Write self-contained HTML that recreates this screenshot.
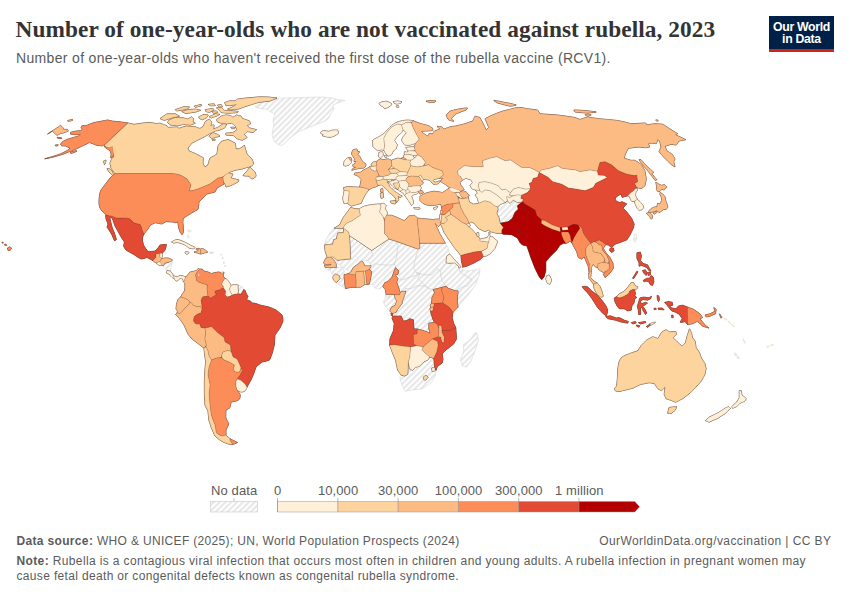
<!DOCTYPE html>
<html lang="en">
<head>
<meta charset="utf-8">
<title>Number of one-year-olds who are not vaccinated against rubella, 2023</title>
<style>
  html, body { margin: 0; padding: 0; background: #ffffff; }
  body { width: 850px; height: 600px; position: relative; overflow: hidden;
         font-family: "Liberation Sans", sans-serif; color: #5b5b5b; }
  .abs { position: absolute; white-space: nowrap; line-height: 1; }
  #title { left: 15.6px; top: 18px; font-family: "Liberation Serif", serif; font-weight: bold;
           font-size: 23.3px; color: #333333; letter-spacing: 0.075px; }
  #subtitle { left: 16px; top: 50.5px; font-size: 14px; color: #5b5b5b; letter-spacing: 0.337px; }
  #logo { left: 769px; top: 16px; width: 65px; height: 33px; background: #002147;
          border-bottom: 3px solid #ce261e; color: #fff; text-align: center; white-space: normal; }
  #logo span { display: block; font-weight: bold; font-size: 12.3px; line-height: 11.9px; letter-spacing: -0.32px; }
  #logo span.l1 { padding-top: 5.6px; }
  .leg { font-size: 13px; color: #5b5b5b; top: 483.5px; letter-spacing: 0.1px; transform: translateX(-50%); }
  #src  { left: 16.5px; top: 534.8px; font-size: 12px; letter-spacing: 0.335px; }
  #url  { right: 18.6px; top: 534.8px; font-size: 12px; letter-spacing: 0.42px; }
  #note1 { left: 16.5px; top: 554.8px; font-size: 12px; letter-spacing: 0.369px; }
  #note2 { left: 16.5px; top: 570.2px; font-size: 12px; letter-spacing: 0.339px; }
  b { font-weight: bold; }
  #map { position: absolute; left: 0; top: 0; width: 850px; height: 600px; }
</style>
</head>
<body>
<div id="title" class="abs">Number of one-year-olds who are not vaccinated against rubella, 2023</div>
<div id="subtitle" class="abs">Number of one-year-olds who haven't received the first dose of the rubella vaccine (RCV1).</div>
<div id="logo" class="abs"><span class="l1">Our World</span><span>in Data</span></div>
<svg id="map" viewBox="0 0 850 600" width="850" height="600">
<defs>
<pattern id="hatch" patternUnits="userSpaceOnUse" width="4.14" height="4.14" patternTransform="rotate(45)">
<rect width="4.14" height="4.14" fill="#ffffff"/><line x1="1.1" y1="0" x2="1.1" y2="4.14" stroke="#e6e6e6" stroke-width="2"/>
</pattern>
</defs>
<style>#countries path{stroke:#5a3a2a;stroke-opacity:.55;stroke-width:.35;stroke-linejoin:round}#countries path.t{stroke-opacity:.3;stroke-width:.3}#countries path.u{stroke-opacity:1;stroke-width:.7}#countries path.nd{fill:url(#hatch);stroke:#cfcfcf;stroke-opacity:1;stroke-width:.5}</style><g id="countries">
<path class="nd" d="M255 107L262 102L270 100L278 98.4L290 97.8L300 97.6L311 97.2L322 97L332 98L338 99.6L345 100.5L339 102.5L333 105L334 109L332 112L330 116L328 119L324 121.5L320 123L315 125L310 127L304 129.5L298 132L294 135L290 138L287 141L284 144L281.5 145.5L279 145L276 143L274 141L272.5 137L272 133L273 129L274 125L273 120L274 117L275 114L270 111.5L266 109L260 108.5Z"/>
<path class="nd" d="M163 266L164 264.6L165 263L167 262.6L169 262L171 261.2L172.4 260.4L172.2 263L171.6 265L171 268L170.4 271L168.6 270.8L167 270L165.4 268.8L164 267.4Z"/>
<path class="nd" d="M209.6 252L213.6 252L213.2 253.4L210 253.4Z"/>
<path class="nd" d="M238.2 285.2L241.5 286.5L244 289.5L242.5 292L241 294.5L239 294L237.5 294L238.5 291.5L237.8 288Z"/>
<path class="nd" d="M334.3 228.1L339 228.2L343.5 228.4L343.5 232.6L337.8 233L337.1 236L336.4 239L333.6 239.7L333.2 242L332.9 244.2L328.6 244.6L324.4 245L325.4 242L326.5 239L328.2 235.8L330 232.6L332 230.2Z"/>
<path class="nd" d="M349.4 235.5L359 241.8L369 248.6L371.8 250.3L372.2 253.2L372.5 256L370 258.1L367.6 260.2L364.8 260.6L361.9 261L359.8 262.8L357.7 264.5L355.6 265.9L353.4 267.3L352.4 269.4L351.3 271.6L348.4 270.5L345.6 269.4L343.8 268L342.1 266.6L339.6 264.8L337.1 263.1L337.1 260.2L343.8 259.5L350.6 258.8L350 247Z"/>
<path class="nd" d="M371.8 250.3L380.3 244.6L388.8 239L392.4 240L395.9 241.1L397 243.2L398 245.4L397.3 251.4L396.6 257.4L395.6 260.6L394.5 263.8L391.6 264.8L388.8 265.3L384.6 265L380.3 264.6L377.5 264.2L374.7 263.9L372.9 264.9L371.1 265.9L369.4 263L367.6 260.2L370 258.1L372.5 256L372.2 253.2Z"/>
<path class="nd" d="M395.9 241.1L406.9 245L417.9 248.9L417 253.3L414.8 261.8L413.4 267.5L416.2 272.6L418.1 273.4L420 273.8L415 275.6L410.1 277.3L405.8 278.8L401.6 280.2L399.8 277.2L398 274.3L398.4 272.6L398.7 270.9L397 269.1L395.6 267.6L395 265.8L394.5 263.8L395.6 260.6L396.6 257.4L397.3 251.4L398 245.4L397 243.2Z"/>
<path class="nd" d="M419.7 243.1L432.5 243.1L445.3 243.1L446.7 245.8L448.1 248.4L448.8 251.2L449.5 254L448.1 255.2L446.7 256.3L446.4 259.4L446.2 262.6L444.3 265.1L442.5 267.6L441.4 269.8L440.3 271.9L438.9 270.2L437.5 268.4L434.6 271.6L431.8 274.8L427.5 274.8L423.3 274.8L419.8 273.7L416.2 272.6L413.4 267.5L414.8 261.8L417 253.3L417.9 248.9L419.7 248.2Z"/>
<path class="nd" d="M416.2 272.6L419.8 273.7L423.3 274.8L427.5 274.8L431.8 274.8L434.6 271.6L437.5 268.4L438.9 270.2L440.3 271.9L441 275.7L441.7 279.5L443.8 282.8L446 286.2L443.8 286.9L441.7 287.5L437.4 288.6L433.2 289.6L431.1 289.2L429 288.7L425.8 285.9L422.6 283.1L420 280.6L417.7 278.1L418.8 276L420 273.8L418.1 273.4Z"/>
<path class="nd" d="M459 268L460.3 267.5L461.6 267.2L462.2 268.8L462.7 270.4L461.3 271.1L459.9 271.7L459.4 269.9Z"/>
<path class="nd" d="M446.2 262.6L447.8 262.9L449.5 263.1L452 262.9L454.5 262.7L456.6 264.6L458.7 266.4L459 268L459.4 269.9L459.9 271.7L461.4 272.9L463 274L467.6 276.8L472.2 279.6L469.7 282.8L467.2 286L464.4 286.7L461.6 287.4L458.8 289.2L455.9 291L452.4 289.8L448.8 288.6L447.4 287.4L446 286.2L443.8 282.8L441.7 279.5L441 275.7L440.3 271.9L441.4 269.8L442.5 267.6L444.3 265.1Z"/>
<path class="nd" d="M462.7 270.4L465.7 270.7L468.7 271L474.4 270L480 268.9L479.8 271.4L479.7 273.9L477.7 279.2L475.7 284.5L472.2 289.4L468.7 294.4L465.2 298.3L461.6 302.2L459.8 304.7L458 307.2L457.6 304.4L457.3 301.5L457.6 296.2L458 290.9L455.9 291L458.8 289.2L461.6 287.4L464.4 286.7L467.2 286L469.7 282.8L472.2 279.6L467.6 276.8L463 274L461.4 272.9L459.9 271.7L461.3 271.1Z"/>
<path class="nd" d="M325.1 267.5L327.9 267.7L330.7 267.9L330.4 269L330 270.2L328.2 270.2L326.5 270.2L325.6 268.9Z"/>
<path class="nd" d="M330 270.2L330.4 269L330.7 267.9L333.6 267.7L336.4 267.5L339.2 267.4L342.1 267.3L343.2 269.1L344.2 270.9L344.2 272.8L344.2 274.7L344.2 276.6L343.5 278L341.8 278.4L340.2 278.7L339.6 277.1L339 275.5L337.4 274.8L335.7 274.1L334 274.3L332.2 274.4L331.2 272.3Z"/>
<path class="nd" d="M336.4 282.6L338.1 280.6L339.8 278.7L341.8 278.4L343.5 278L344.2 276.6L344.5 280.5L344.9 284.3L345.2 286.4L345.6 288.6L343.1 287.2L340.7 285.7L338.6 284.2Z"/>
<path class="nd" d="M371.1 265.9L372.9 264.9L374.7 263.9L377.5 264.2L380.3 264.6L384.6 265L388.8 265.3L391.6 264.8L394.5 263.8L395 265.8L395.6 267.6L394.8 269.4L394.1 271.2L393 274.4L391.9 277.5L389.8 279.6L387.7 281.8L386.3 282.2L384.9 282.5L383.9 284.6L382.9 286.7L380.9 288L378.9 289.3L376.8 288.6L374.7 287.9L373.6 286.1L372.5 284.3L370.8 284.2L369.2 284.2L370 280.7L370.8 277.2L371.2 274.4L371.7 271.6L370.5 270.4L369.3 269.4L370 267.7Z"/>
<path class="nd" d="M398 278.7L399.8 279.4L401.6 280.2L405.8 278.8L410.1 277.3L415 275.6L420 273.8L418.8 276L417.7 278.1L420 280.6L422.6 283.1L425.8 285.9L429 288.7L427.4 288L425.7 286.4L421.4 286L417.2 285.7L414.4 287.2L411.5 288.6L408.6 288.6L405.8 288.6L405.8 290L405.8 291.4L403.8 291.4L401.9 291.4L401 292.2L400.2 292.9L399.4 290.4L398.7 287.9L397.6 285L396.6 282.2L397.3 280.4Z"/>
<path class="nd" d="M385.3 294.5L387.4 294.4L389.6 294.4L389.6 297.1L387.4 297.2L385.3 297.3Z"/>
<path class="nd" d="M385.3 297.3L387.4 297.2L389.6 297.1L389.6 294.4L392 294.4L394.4 294.5L394.8 296.5L395.3 298.5L396 299.9L396.8 301.3L395.9 303.6L394.9 305.8L393.2 306.4L391.6 307.2L390.7 309.2L389.9 311.3L387.8 309.2L385.7 307L384.6 304.6L383.5 302.1L384.4 299.7Z"/>
<path class="nd" d="M405.8 291.4L405.8 290L405.8 288.6L408.6 288.6L411.5 288.6L414.4 287.2L417.2 285.7L421.4 286L425.7 286.4L427.4 288L429 288.7L431.1 289.2L433.2 289.6L434 291.3L434.7 293L433.4 295.1L432.1 297.2L431.8 300.3L431.6 303.4L430.3 305.2L430.6 307.2L430 309.4L430.7 311.3L431 313.4L432 316.6L433.1 319.8L433.8 321.1L434.5 322.4L431.7 322.8L428.9 323.2L428.9 326.1L428.9 329L429.6 331.2L430.3 333.4L428.5 332.6L426.7 331.8L424.6 331.1L422.5 330.4L420 329.7L417.5 329L415.8 329L414 329L413.6 324.4L413.3 319.8L411.5 319.3L409.7 318.8L408.3 319.6L406.9 320.5L405.2 320.8L403.4 321.2L402.3 318.7L401.2 316.2L397 316.2L392.7 316.2L392.5 315L392.7 313.4L394.5 312.7L396.3 312L397 310.6L397.7 309.2L399.8 306.4L402 303.5L402.3 301.3L403.4 298.5L404.4 295.7L405.1 293.5Z"/>
<path class="nd" d="M401.2 375.2L403 375.6L404.8 375.9L406.2 375.2L407.7 374.4L408 368L409.7 368.9L411.2 369.6L412.6 370.3L414 368.8L415.4 367.4L417.6 366.7L419.7 366L421.8 363.9L423.9 361.8L426 360.8L428.2 359.7L428.9 358.3L429.6 356.9L431.7 357.6L433.8 358.3L434.2 362.2L434.5 366L435 367.6L435.5 369L436 370.3L435.6 373.2L435 376.2L433.1 379.4L431.2 382.5L426.8 385.6L422.5 388.8L417.5 389.4L412.5 390L408.8 390.6L405 391.2L403.8 388.7L402.5 386.2L401.2 382.5L400 378.8L400 376.8Z"/>
<path class="nd" d="M474.9 332.5L476 332.8L477 333.2L477.7 336.8L478.4 340.3L476.6 346L474.9 351.7L472.8 356.6L470.7 361.6L468.6 364.4L466.4 367.2L464.3 366.5L462.2 365.8L461.4 362.6L460.5 359.5L462 355.6L463.6 351.7L463.6 348.2L463.6 344.6L466.4 342.4L469.2 340.3L471 338.2L472.8 336.1Z"/>
<path class="nd" d="M497.5 206.7L500.8 204.2L505 202.5L507.5 200.8L510 203.3L513.3 200L517.5 202.5L522.5 201.7L517.5 205.8L518.3 209.2L515 212.5L512.5 218.3L508.3 221.7L500 223.3L499.2 218.3L496.7 213.3L498 209.2Z"/>
<path class="nd" d="M634.2 234.2L636.3 234.2L636.7 240L635 242.5L633.7 239.2Z"/>
<path class="nd" d="M734.9 352.7L737.2 355.4L739.6 358L738.4 358.9L736.2 356.4L734 353.9Z"/>
<path class="u" fill="#fef0d9" stroke="#fef0d9" d="M320.6 132.6L322 131.4L323.5 130.6L326.2 131L328.8 131.4L330.6 130.6L332.4 130.2L335 130.1L337.6 130.2L338.2 131.7L338.5 133.2L336.6 134.6L334.7 135.8L332.4 136.7L330 137.3L327.6 137L325.3 136.5L322.4 135.8L323.5 134.4L321.2 133.8Z"/>
<path class="u" fill="#fdd49e" stroke="#fdd49e" d="M128 123L134 124.4L142 123.2L150 122.4L156 123.6L160 123.2L163.5 124.6L167 125.8L168.2 127.4L173 127.2L177.6 127L178.8 128.5L182.4 127.2L185.9 126.2L190.6 126.4L195.3 126.8L197.6 127.8L200 128.5L201.8 127.4L203.5 126.2L204.4 123.8L205.3 121.5L207.4 120.2L209.4 119.1L210.6 120.6L211.8 122.1L211.2 123.8L210.6 125.6L212.4 125.2L214.1 125L213.8 127L213.5 129.1L216.2 128L218.8 126.8L221.2 125.2L223.5 123.8L225 124L226.5 124.4L225.6 126.2L224.7 127.9L221.8 129.2L218.8 130.3L217 130.7L215.3 130.9L212.4 132.4L209.4 133.8L205.5 136.2L202 138L197 140.5L192 143L190 145.5L188 148L189 151L194 153L199 155.5L203.6 158L203 161L203 164L205 167L208 165L209 161L210 158L214 156L217 154L217.5 150L218 146L219.6 143.6L221.2 141.5L224.6 140.4L228.2 139.7L231.8 141.4L235.3 143.2L235.6 146L236 149L238.5 148.8L241 148L243 146.5L244.4 145L245.5 149.5L247 154L249.5 156.5L252 159L253 161.5L253.6 164L251.5 166L249 167L245 168L242 169L236 170L230 172L227 174L224 176L221 177.6L218 178L214 181L210 184L204 186.5L198 189L193 190.5L189 191L190 188L191 185L189 182L187 179L183 176.5L180 175L176 174L172 173.6L115 173.6L113 171L111 168L110 163L112 158L114 157L113 153L111 149L106 147L104 145.6Z"/>
<path class="u" fill="#fdd49e" stroke="#fdd49e" d="M107 168.6L110 169L112 171L114 176L111.5 174.5L109 172ZM103.6 161L106 160L105.5 163L104.4 164.6ZM250 167L253 170L255 172L256 175L255.6 177L253 178.5L252 179L250 177.5L249 176L246 176L243 175.6L245 173L247 171ZM222.4 178L225 175L228 173L233 174L232 176L231 178L235 179L239 180L238 182L236 183L231 185.5L226 187L225 184L223.6 182ZM216.5 119.7L218.8 118L221.2 116.2L223.6 115.6L225.9 115L228.2 115.2L230.6 115.6L231.8 116.6L232.9 117.4L234.7 116.2L236.5 115L238.8 115.6L241.2 116.2L241.8 117.4L242.4 118.5L245.9 119.7L249.4 120.9L250 122.4L250.6 123.8L248.8 124.7L247.1 125.6L248.2 126.8L249.4 127.9L253 128.8L256.5 129.7L254.7 131.2L252.9 132.6L250 132L247.1 131.5L245.6 133L244.1 134.4L245.6 135.9L247.1 137.4L244.8 138.8L242.4 140.3L239.4 139.4L236.5 138.5L235 137L233.5 135.6L229.7 135.3L225.9 135L225.9 133.2L229.4 132.9L232.9 132.6L235 131.2L237.1 129.7L236.2 128L235.3 126.2L233.6 124.7L231.8 123.2L229.2 123.5L226.5 123.8L223.8 123.5L221.2 123.2L219.4 122.6L217.6 122.1ZM230.6 127.4L233 127.2L235.3 127.6L234.6 128.6L232 128.6ZM224.7 102.6L227 101.8L229.4 100.9L232.4 100.9L235.3 100.9L236.4 100L237.6 99.1L242.4 98.5L247.1 97.9L253.5 97.4L260 96.8L268 97L277 98L273 99.8L270 101L265 101.6L260 102.1L255.9 103.2L251.8 104.4L248.2 105.6L244.7 106.8L241.4 108L238.2 109.1L234.4 109.4L230.6 109.7L229.1 109.4L227.6 109.1L230.2 108L232.9 106.8L234.7 105.6L236.5 104.4L233.6 105L230.6 105.6L228.2 105.6L225.9 105.6ZM216.5 107.9L218.8 107.6L221.2 107.4L222.6 108.8L224.1 110.3L228.5 110.6L232.9 110.9L235.6 111.2L238.2 111.5L237.6 112.6L232.9 112.9L228.2 113.2L224.7 112.9L221.2 112.6L220.3 111.4L219.4 110.3ZM211.8 111.5L214.2 111.2L216.5 110.9L217.6 112.4L215.6 112.8L213.5 113.2ZM217.6 105L219.4 104.7L221.2 104.4L222.4 106.8L220.6 106.8L218.8 106.8ZM208.2 104.4L211.2 104.1L214.1 103.8L215.3 105.6L213 105.7L210.6 105.8ZM194.1 106.2L197.6 105.3L201.2 104.4L201.8 105.6L198.6 106.5L195.3 107.4ZM175.3 109.7L179.4 108.2L183.5 106.8L186.4 106.8L189.4 106.8L188.2 108.5L184.7 109.4L181.2 110.3L178.8 110.6L176.5 110.9ZM181.8 111.5L185 110.6L188.2 109.7L191.8 109.4L195.3 109.1L198 109.7L200.6 110.3L198 111.2L195.3 112.1L190.6 112.8L185.9 113.6ZM205.3 109.7L209.1 109.1L212.9 108.5L214.1 109.7L211.8 111L209.4 112.4L207.6 112L205.9 111.5ZM198.8 116.8L201.4 115.6L204.1 114.4L206.2 114.7L208.2 115L207.4 116.4L206.5 117.9L204.4 118.8L202.4 119.7L200.9 119.1L199.4 118.5ZM209.4 116.8L212.4 115.3L215.3 113.8L217.6 114.1L220 114.4L218.2 115.3L216.5 116.2L213.8 117L211.2 117.9ZM160 118.5L163.5 116.2L167 113.8L171.2 113.8L175.3 113.8L177.4 115L179.4 116.2L175.6 117L171.8 117.9L168.2 119.1L164.7 120.3L162 119.6ZM168.8 120.3L172 118.8L175.3 117.4L179.4 117.6L183.5 117.9L185.6 118.5L187.6 119.1L189.7 118L191.8 116.8L192.6 117.6L193.5 118.5L193.2 120.3L192.9 122.1L194.1 122.6L195.3 123.2L193 124.1L190.6 125L187 124.7L183.5 124.4L180.6 125.1L177.6 125.8L174.1 125.4L170.6 125L169.1 123.8L167.6 122.6ZM208.8 136.2L210.8 134.4L212.9 132.6L215.2 133.5L217.6 134.4L218.8 135.3L220 136.2L217.6 136.8L215.3 137.4L213.6 137.8L211.8 138.3ZM212 139.6L215 139.2L215.2 140.2L212.4 140.4Z"/>
<path class="u" fill="#fc8d59" stroke="#fc8d59" d="M115 173.6L172 173.6L176 174L180 175L183 176.5L187 179L189 182L191 185L190 188L189 191L193 190.5L198 189L204 186.5L210 184L214 181L218 178L221 177.6L223 177.6L223.6 182L224 184L220.5 186L217 188L216 190L215 192L211 193L207 194L204.5 196.5L202 199L200.5 200.5L199 202L198.6 206L198 209.3L194 211.6L190 214L187.4 215.6L184.7 217.3L183.2 219L182.8 222L183.3 226.7L183.4 230L183.3 232.7L182 234.7L180.4 232.7L179.4 230L178.7 228L178.2 225L178 222L175.3 222.7L172.7 222L169.4 221.8L166 221.6L164 222.8L162 224L158.6 223.4L155.3 222.7L152.6 224L150 225.3L148 229L145.5 232L144 234L142.5 231L142 230L141 226L140 224.4L137 223.8L134 223L132 221L130 219L126 218L121 218L116 218L111 216.5L106 215L105 214L102 211L100 208L99 204L99 200L99.6 194L101 190L104 186L107 182L110 178L113 175.5Z"/>
<path class="u" fill="#fc8d59" stroke="#fc8d59" d="M127.6 122.9L123.8 122.4L120 121.8L116.4 121.5L112.9 121.2L110.2 120.6L107.6 120L104.4 120.6L101.2 121.2L97 122L92.9 122.9L90 124.1L87.1 125.3L84.4 125.6L81.8 125.9L81.2 127.6L82.4 129.4L80.6 130.6L78 130.9L75.3 131.2L73 131.8L70.6 132.4L70.6 134.1L73 134.4L75.3 134.7L78 134.4L80.6 134.1L78.8 135.9L75.8 136.8L72.9 137.6L70 138.5L67.1 139.4L64.8 140.6L62.4 141.8L61.5 143L60.6 144.1L61.8 145.9L63.6 145.9L65.3 145.9L67.6 147L70 148.2L68.6 149.4L67.1 150.6L63.6 152.4L60 154.1L56.4 155.3L52.9 156.5L48.8 157.6L44.7 158.8L48.2 158.2L51.8 157.4L55.3 156.5L59.4 155.3L63.5 154.1L67 152.6L70.6 151.2L73.6 150L76.5 148.8L78.8 147.6L81.2 146.5L83.8 145.3L86.5 144.1L88 143.2L89.4 142.4L90.9 143L92.4 143.5L94.4 144.4L96.5 145.3L99.4 145.6L102.4 145.9L104.1 144.7L105 145.9L105.9 147.1L107.6 147.4L109.4 147.6L110.9 147L112.4 146.5L112.6 148.2L112.9 150L113.2 152.4L113.5 154.7L113 155.9L112.4 157.1L110.6 157.6L110.9 155.8L111.2 154.1L110.6 152.4L110 150.6L108.6 149.7L107.1 148.8L105.9 148L104.7 147.1L104.5 144.7ZM57.1 137.3L61.2 137.6L61.8 138.6L57.6 138.2ZM55.1 145.1L58.2 144.7L57.6 145.9L55.5 146ZM70 152.4L73.2 151.4L76.5 150.6L76.7 151.4L74 152.4L71.2 153.5Z"/>
<path class="u" fill="#fdbb84" stroke="#fdbb84" d="M47.6 134.1L49.7 132.6L51.8 131.2L54.2 129.7L56.5 128.2L58.6 126.8L60.6 125.3L61.8 126.4L62.9 127.6L63.5 129.4L65.6 129.4L67.6 129.4L68.2 131.2L65.8 132L63.5 132.9L60.6 133.5L58.8 134.4L57.1 135.3L55.6 134.1L54.1 132.9L52.4 131.2L50.9 132L49.4 132.9ZM67.6 120.6L70 120L72.4 119.4L72.7 120.4L70.4 120.9L68.2 121.4Z"/>
<path class="u" fill="#fc8d59" stroke="#fc8d59" d="M7.5 248L9.5 246.8L11.5 248L10 250.6L8 250.4ZM4.5 244.4L6 244.2L6.6 245.4L5 245.6ZM2 242.4L3 242.2L3.4 243L2.4 243.2Z"/>
<path class="u" fill="#e34a33" stroke="#e34a33" d="M105.6 215.4L112 216L116 218L119 218.6L124 218.2L128 218L130 219L132 222L134 223L137 224L140 224.4L141 227L142 230L143 233L144 234L142.6 237L142.4 240L143 243L144 246L146 249L148 251.4L151.5 251.6L155 251L156.6 249.6L158 248L159 246.4L160 245L163 244.6L166.4 244.4L166 247L165 250L163.8 251.6L162.4 253L159 253.4L156 254L156 257.4L154.5 259L153 260.6L150 259L147 257.4L144 258.4L141 259L137.5 257L134 254.6L130 252.4L126 250L124.6 248L123.6 246L124 244L124.4 242L122 238.5L120 235L117.5 230.5L115 226L113.6 222L112.4 218.6L111 217.4L110 218.6L111 223L112 227L113.2 230L114.4 233L115.4 236L116.4 239.4L115.4 240.4L114.4 240.6L113 237.6L112 235L110.5 232.5L109 230L107 227L107.5 225.5L108 224L107 221.5L106 219Z"/>
<path class="u" fill="#fdbb84" stroke="#fdbb84" d="M156 254L159.6 253.6L160 257.4L162 258.6L160.8 260L159.6 261.4L158 262.4L156.4 263L154.5 262L153 260.6L154.5 259L156 257.4Z"/>
<path class="u" fill="#fef0d9" stroke="#fef0d9" d="M159.6 253.6L162.4 253L162.4 255.4L162 257.6L161 258.2L160 257.4Z"/>
<path class="u" fill="#fdbb84" stroke="#fdbb84" d="M162 258.6L165 258L168 258L170.5 258.8L172.4 260L171 261.2L169 262L167 262.6L165 263L164 264.6L163 266L162 265.2L161 264L159.6 262L160.8 260Z"/>
<path class="u" fill="#fef0d9" stroke="#fef0d9" d="M156.4 263L158 262.4L159.6 261.6L161 263.6L162 265L160 265.6L158 264.6Z"/>
<path class="u" fill="#fef0d9" stroke="#fef0d9" d="M167 270.4L168.6 270.8L170.4 271.2L171.8 273L173 275L173.8 276.6L174.4 278L173 278L172 277.4L170.4 275.6L169 274L167.6 273.6L166.4 273L166.6 271.6Z"/>
<path class="u" fill="#fef0d9" stroke="#fef0d9" d="M173 275L175 276.6L177 277L180 275.5L183 276L186 277L185 278L184.8 280L183.5 281.4L182.6 279L181.4 278.4L179.5 278.6L178 280.6L176 281L174.6 279.4L173.8 277Z"/>
<path class="u" fill="#fef0d9" stroke="#fef0d9" d="M171.6 242L174 240.6L177 239.4L180 240.2L183 241.4L186.5 243L190 245L192.6 246.2L195 247.4L194.6 248.4L194 248.8L191.5 248.6L189 248L187 246.4L185 245L182.5 244L180 243L178 242.6L176 242.6L173.6 243Z"/>
<path class="u" fill="#fdbb84" stroke="#fdbb84" d="M194 252L196 251.4L198 251L198.6 249.6L196 249.2L196.4 248.4L199 248.4L200.4 249L200.6 251.6L200.8 254L199 253.6L198 253L196 252.8Z"/>
<path class="u" fill="#fdbb84" stroke="#fdbb84" d="M200.4 249L203 248.6L205.4 250.2L207.6 252L205.8 252.6L204 253L202.4 253.6L200.8 254L200.6 251.6Z"/>
<path class="u" fill="#fef0d9" stroke="#fef0d9" d="M185 252L187 251.8L189 252.4L188.6 253.4L188 254L186.6 254L185.6 253.6Z"/>
<path class="u" fill="#fdbb84" stroke="#fdbb84" d="M198.5 268.2L199.4 269.4L198.5 270.5L196.5 273L195.5 275.5L196.5 278L196.5 280.5L198.5 282L203 283.5L207.5 285L207 288.5L207.5 292L208 296L205 296.5L202.5 297L201.2 300.5L201.8 304L202.2 309L201.2 313L202 309L200.5 306.5L196.5 306.5L193.5 305.5L191.5 303L190 302L188 300L184.5 298.2L180.5 297L181 296.5L182 294.5L184.5 291L185 287L184.8 283.5L183.5 281.4L184.8 280L185 278L186 277L188.5 274L190 272L193 271.5L196.5 270.5Z"/>
<path class="u" fill="#fc8d59" stroke="#fc8d59" d="M198.5 270.5L199.6 269L202.5 269.2L203.5 271L208 272L211.5 273.5L215 272.5L219 272L222 273.2L224 272L223.6 274L223 276L225 278.5L222.5 282L222 284.5L223.5 286.5L223.2 287.8L219.5 290L215.2 291L215 293L216.8 294.2L213.5 296.5L210.5 298.2L208 296L207.5 292L207 288.5L207.5 285L203 283.5L198.5 282L196.5 280.5L196.5 278L195.5 275.5L196.5 273Z"/>
<path class="u" fill="#fef0d9" stroke="#fef0d9" d="M225 278.5L227 279.5L229.5 282.5L231 285.5L229.5 289L230.5 292L232.5 295L229.5 296.5L227 297L225 295L225.5 291L223.2 287.8L223.5 286.5L222 284.5L222.5 282Z"/>
<path class="u" fill="#fef0d9" stroke="#fef0d9" d="M231 285.5L234.5 284.5L238.2 285.2L237.8 288L238.5 291.5L237.5 294L235 294.2L232.5 295L230.5 292L229.5 289Z"/>
<path class="u" fill="#fdbb84" stroke="#fdbb84" d="M180.5 297L178 299.5L176.5 304L176 309L177.5 311L177 313L180 313.5L182.5 311L185 308L188.5 305L190 302L188 300L184.5 298.2Z"/>
<path class="u" fill="#fdbb84" stroke="#fdbb84" d="M177 313L180 313.5L182.5 311L185 308L188.5 305L190 302L191.5 303L193.5 305.5L196.5 306.5L200.5 306.5L202 309L201.2 313L199 313.6L196.6 314.8L194.4 316.6L193.8 318.8L193.6 321L194.8 322.6L196 324L198 324L200 324L200.4 325.6L201 327.4L203 327.8L205 328L205.4 331L205.6 334L205.2 337L205 340L205.8 342.6L206.4 345L205.2 346.6L204 348L202 346.6L200 345L196 342L192 339L190 336.6L188 334L186 329.6L184 325L181.5 321.5L179 318L177.2 316L175.6 314.4Z"/>
<path class="u" fill="#e34a33" stroke="#e34a33" d="M201.2 313L202.2 309L201.8 304L201.2 300.5L202.5 297L205 296.5L208 296L210.5 298.2L213.5 296.5L216.8 294.2L215 293L215.2 291L219.5 290L223.2 287.8L225.5 291L225 295L227 297L229.5 296.5L232.5 295L235 294.2L237.5 294L239 294L241 294.5L242.5 292L244 289.5L245 290.5L246.5 294L248 296.5L246.5 299.5L251 301.5L252 303L256 303.5L260 305L264.5 306L269 307L272.5 308.4L276 310L279 312.4L282 315L282.8 318L283 321L281.6 324.6L280 328L277.5 331.6L275 335L274.6 340L274.4 345L273.2 349.6L272 354L270.8 357L269.6 360L265.8 361.2L262 362L259 364.4L256 367L255 370L254 373L252.5 376.6L251 380L249 383.6L247 387L246 385.4L245 384L243 382.2L241 380.6L239 379.6L237 379L238.6 377L240 375L241.6 372.4L243 370L242 369L241 368L240 365.4L239 363L238 361L237 359L235 358L233 357L232 354L231 351L230.6 348L230.4 345L227.6 343.4L225 342L224.4 339.6L224 337.4L221 335.2L218 333L215.5 330.4L213 328L211.6 326.6L208.4 327.4L205 328L203 327.8L201 327.4L200.4 325.6L200 324L198 324L196 324L194.8 322.6L193.6 321L193.8 318.8L194.4 316.6L196.6 314.8L199 313.6Z"/>
<path class="u" fill="#fdbb84" stroke="#fdbb84" d="M205 328L208.4 327.4L211.6 326.6L213 328L215.5 330.4L218 333L221 335.2L224 337.4L224.4 339.6L225 342L227.6 343.4L230.4 345L230.6 348L231 351L229.5 350.8L228 350.6L225.5 351.2L223 352L222 354.6L221 357.4L219 357.8L217 358L215.5 358.4L214 359L212.8 359.6L211.6 360L210.2 358L209 356L208.4 353.4L208 351L207 349L206 347L206.4 345L205.8 342.6L205 340L205.2 337L205.6 334L205.4 331Z"/>
<path class="u" fill="#fdd49e" stroke="#fdd49e" d="M223 352L225.5 351.2L228 350.6L229.5 350.8L231 351.4L232 354L233 357L235 358L237 359L238 361L239 363L240 365.4L241 368L240.4 370L239.6 372L237.4 372.2L235 372L234 370.4L233 369L233.8 367L234.4 365L231.6 363.4L229 362L226 360.8L223 359.4L222.2 357.6L221.6 356L222.2 354Z"/>
<path class="u" fill="#fef0d9" stroke="#fef0d9" d="M237 379L239 379.6L241 380.6L243 382.2L245 384L246 385.6L247 387.4L246 389.4L245 391L243 391.8L241 392L239 391.2L237 390L236.2 387.6L235.6 385L235.6 383L236 381Z"/>
<path class="u" fill="#fc8d59" stroke="#fc8d59" d="M211.6 360L212.8 359.6L214 359L215.5 358.4L217 358L219 357.8L221 357.4L222.2 358.4L223 359.4L226 360.8L229 362L231.6 363.4L234.4 365L233.8 367L233 369L234 370.4L235 372L237.4 372.2L239.6 372L240.9 368.4L242.9 370L241.4 372.4L240 375L238.6 377L237 379L236 381L235.6 383L235.6 385L236.2 387.6L237 390L238.4 392L240 394L240.2 396.6L239.6 399L238 400.2L236 401L233.5 401.6L231 402L230.6 404.6L230 407.5L228 409L226 410L225.8 413.6L225.8 417.5L227 420.6L228.8 423.8L227.4 427L226 430L226 432.6L226 435L224 435.6L221.2 436L218.6 434.4L216.2 432.5L215.6 428.6L215 425L213 420L211.2 415L210.6 410L210 405L209.4 399L209 393L209.6 389L210 385L209 380L208 375L208.4 371L209 367L210.2 363.6ZM230 438.8L233.6 440.6L237.5 442.5L235 443.6L232.5 444.5L231 442L229.8 440Z"/>
<path class="u" fill="#fdd49e" stroke="#fdd49e" d="M204 348L205 347.4L206 347L207 349L208 351L208.4 353.4L209 356L210.2 358L211.6 360L210.2 363.6L209 367L208.4 371L208 375L209 380L210 385L209.6 389L209 393L209.4 399L210 405L210.6 410L211.2 415L213 420L215 425L215.6 428.6L216.2 432.5L218.6 434.4L221.2 436L224 435.6L226 435L226.8 436.2L228 437L230 438.8L229.8 440L231 442L232.5 444.5L230 444.5L225.5 443L221.2 441L218 438.6L215 436L213 431.6L211.2 427.5L210 423.6L208.8 420L208.4 415.6L208 411L206.4 408L205 405L204.6 399L204.4 393L204.4 387L204.4 381L204.6 375L205 369L205.4 365L205.6 361L205 357L204.4 353Z"/>
<path class="u" fill="#fef0d9" stroke="#fef0d9" d="M372.5 140.5L374.5 139L377.5 137.6L380.5 135.8L383.2 134.1L385.4 131.8L387.4 129.8L389.6 127.6L391.7 125.6L393.8 124L395.9 122.7L399.5 121.4L403 120.6L406 120.2L408.7 120.2L411.3 120.4L413.6 121L412.6 121.6L411.5 122L408.6 122.4L405.8 122.7L404.4 123.5L403 124.2L401.6 124.9L399.4 124.4L397.3 124.2L394.5 125.6L391.7 127L389.2 129.8L386.7 132.7L385.2 135.6L383.9 138.3L384.3 142.2L384.6 146.1L384.2 148.4L383.9 150.4L381.7 149.6L380 150.4L377.5 150.4L375.2 148.8L373.2 146.8L372.7 143.6Z"/>
<path class="u" fill="#fef0d9" stroke="#fef0d9" d="M384.6 146.1L384.3 142.2L383.9 138.3L385.2 135.6L386.7 132.7L389.2 129.8L391.7 127L394.5 125.6L397.3 124.2L399.4 124.4L401.6 124.9L402.4 127.4L403 129.8L402.4 131.4L401.6 132.7L399.4 134.5L397.3 136.2L395.8 138.4L394.5 140.4L395.9 142.6L397.3 144.7L396.7 146.9L395.9 149L394.5 150.2L393.1 151.1L392.4 152.9L391.7 154.6L389.9 155.5L388.1 156L387 155L386 153.9L384.9 152.2L383.9 150.4L384.2 148.4Z"/>
<path class="u" fill="#fef0d9" stroke="#fef0d9" d="M403 124.2L404.4 123.5L405.8 122.7L408.6 122.6L411.5 122.7L412.2 124.9L412.9 127L414.3 129.9L415.7 132.7L417.5 135.9L419.3 139L417.5 141.2L415.7 143.3L412.2 144.4L408.7 145.4L406.5 145.2L404.4 144.7L403 142.6L401.6 140.4L402.2 138.6L403 136.9L404.8 134.8L406.5 132.7L404.8 131.2L403 129.8L402.4 127.4L401.6 124.9Z"/>
<path class="u" fill="#fef0d9" stroke="#fef0d9" d="M378.9 152.5L380.7 152L382.5 151.8L383 153.6L383.2 155.3L381.8 156.8L380.3 158.2L379.4 157.6L378.6 156.7L378.6 154.6ZM384.6 155.4L386.6 155.2L386.8 157.2L385.2 157.6Z"/>
<path class="u" fill="#fef0d9" stroke="#fef0d9" d="M405.8 147.5L410 147L414.3 146.8L414.8 148.6L415 150.4L411.8 150.8L408.7 151.1L407 149.6Z"/>
<path class="u" fill="#fef0d9" stroke="#fef0d9" d="M404.4 151.8L406.6 152.2L408.7 151.1L411.8 150.8L415 151.1L416.5 152.8L417.9 154.8L415.4 155.4L412.9 155.6L410.4 154.6L407.9 154L406 154.8L404.4 155Z"/>
<path class="u" fill="#fef0d9" stroke="#fef0d9" d="M403.7 155.3L404.4 155L406 154.8L407.9 154.2L410.4 154.8L412.9 155.6L413.6 157L414.3 158.2L412.6 159.4L410.8 160.3L408.6 160.1L406.5 159.9L405.6 158.6L404 157.9Z"/>
<path class="u" fill="#fdbb84" stroke="#fdbb84" d="M401.6 157.9L404 157.9L405.6 158.6L406.5 159.9L404 159.6L401.6 158.9Z"/>
<path class="u" fill="#fef0d9" stroke="#fef0d9" d="M414.3 158.2L416.2 156.6L417.9 154.8L419.7 155.8L421.4 156.7L423.6 159.6L425.7 162.4L424.2 164.2L422.8 166.2L420 166.6L417.2 166.9L414 166.4L410.8 165.7L410.3 164L409.8 162.4L410.4 161.2L410.8 160.3L412.6 159.4Z"/>
<path class="u" fill="#fdd49e" stroke="#fdd49e" d="M391.4 160.3L394.4 159.2L397.3 158.2L399.5 158.4L401.6 158.9L404 159.6L406.5 159.9L408.6 160.1L410.8 160.3L410.4 161.2L409.8 162.4L410.3 164L410.8 165.7L409.8 168L408.7 170.2L408.3 171.2L407.9 172.3L404 171.9L400.2 171.6L399.5 170.9L397 169.6L394.5 168.4L393 167.2L391.7 166L391.6 163Z"/>
<path class="u" fill="#fdbb84" stroke="#fdbb84" d="M380.3 158.9L382.2 159.4L383.9 159.6L386 159.2L388.1 158.9L389.8 159.6L391.4 160.3L391.6 163L391.7 166L390 167.8L388.1 169.5L389.5 171.4L391 173.5L389.6 174.4L388.1 175.4L385.6 176L383.2 176.6L381 176.6L378.9 175.5L378.2 173.7L377.5 172L376.8 170.2L376.1 168.8L376.1 166L376.4 164L376.8 161.3L378.4 160Z"/>
<path class="u" fill="#fdd49e" stroke="#fdd49e" d="M372.5 162.4L374.6 161.8L376.8 161.3L376.4 164L376.1 166L374.6 166.2L373.2 166.4L372.2 165.8L371.1 165.2L371.6 163.8Z"/>
<path class="u" fill="#fef0d9" stroke="#fef0d9" d="M369.7 166.7L371.4 166.6L373.2 166.4L374.6 166.2L376.1 166L376.1 168.8L376.8 170.2L375.6 171L374.7 171.2L372.9 170.4L371.1 169.5L370.4 168.2Z"/>
<path class="u" fill="#fdbb84" stroke="#fdbb84" d="M367.6 168.1L369 167.2L369.7 166.7L370.4 168.2L371.1 169.5L372.9 170.4L374.7 171.2L375.6 171L376.8 170.2L377.5 172L378.2 173.7L378.9 175.5L377.6 176.4L376.1 177.3L376.1 178.6L376.1 180.3L376.8 182.7L378.2 185.6L376.4 186.6L374.7 187.2L371.8 188L369 189.6L366.5 188.6L364 187.9L361.9 187.4L359.8 187.2L360.5 183L361.2 179.4L359.4 177.6L357.7 175.9L355.9 175.2L354.1 174.5L354.4 173.8L354.8 173L357.6 172.8L360.5 172.3L361.9 171.2L363.3 170.2L365.4 169.2ZM380.6 189.1L382.5 188.1L382.9 190L382.9 192L381 192.4L380.6 190.8Z"/>
<path class="u" fill="#fef0d9" stroke="#fef0d9" d="M376.1 177.3L378.6 176.8L381 176.6L383.2 176.6L383.2 179.2L381 180L378.9 180.5L377.4 180.4L376.1 180.3Z"/>
<path class="u" fill="#fef0d9" stroke="#fef0d9" d="M383.2 176.6L385.6 176L388.1 175.4L391 173.5L393.8 173.4L396.6 173.3L397.6 174.6L398.7 176L397.3 176.6L395.9 177.3L396.2 179.6L394 179.6L391.7 179.4L389.2 179.6L386.7 179.7L384.9 179.4L383.2 179.2Z"/>
<path class="u" fill="#fdd49e" stroke="#fdd49e" d="M388.1 169.5L391.3 169L394.5 168.4L397 169.6L399.5 170.9L400.2 171.6L398.4 172.4L396.6 173.3L393.8 173.4L391 173.5L389.5 171.4Z"/>
<path class="u" fill="#fef0d9" stroke="#fef0d9" d="M396.6 173.3L398.4 172.4L400.2 171.6L404 171.9L407.9 172.3L407.2 173.8L406.5 175.4L402.6 175.7L398.7 176L397.6 174.6Z"/>
<path class="u" fill="#fef0d9" stroke="#fef0d9" d="M395.9 177.3L397.3 176.6L398.7 176L402.6 175.7L406.5 175.4L408.7 176.6L407.6 177.4L406.5 178L405.8 180.6L402.2 180.7L398.7 181.2L397.4 180.6L396.2 179.6Z"/>
<path class="u" fill="#fdbb84" stroke="#fdbb84" d="M406.5 178L407.6 177.4L408.7 176.6L411.5 175.9L415 176.2L418.6 176.3L420.4 178.6L422.1 181.5L423.5 183L421.8 184.4L420 186.1L416.8 186L413.6 186.1L411.2 186.4L408.7 186.5L408.7 183.7L407.2 182.2L405.8 180.6Z"/>
<path class="u" fill="#fef0d9" stroke="#fef0d9" d="M418.6 176.3L420.7 175.2L422.1 177.4L423.5 179.4L422.8 180.4L422.1 181.5L420.4 178.6Z"/>
<path class="u" fill="#fdd49e" stroke="#fdd49e" d="M408.7 170.2L409.8 168L410.8 165.7L414 166.4L417.2 166.9L420 166.6L422.8 166.2L425.6 165.4L428.5 164.5L430.6 166L432.7 167.4L437.6 169.2L442.6 170.9L443 173L443.3 175.2L441.6 176.6L439.8 178L437 178.8L434.2 179.4L433 180.6L433.8 181.6L435.6 182.2L438 181.4L440.5 180.8L439.4 182.4L438.4 183.7L435.9 184.2L433.4 184.4L432 182.6L430.6 181.4L429.2 180.1L427.4 179.8L425.7 179.4L424.6 179.4L423.5 179.4L422.1 177.4L420.7 175.2L418.6 176.3L415 176.2L411.5 175.9L408.7 176.6L406.5 175.4L407.2 173.8L407.9 172.3L408.3 171.2Z"/>
<path class="u" fill="#fdd49e" stroke="#fdd49e" d="M376.1 180.3L377.4 180.4L378.9 180.5L381 180L383.2 179.2L384.9 179.4L386.7 179.7L387.4 180.6L387.7 181.5L386.8 182.4L388.1 182.8L388.8 184.4L389.5 186.3L392 188.8L394.5 191.2L396.6 192.6L398.7 194.1L400.5 195.2L402.3 196.2L401.2 197L400.2 197.6L399 196.8L398 196.2L398.4 198L398.7 199.7L397.6 201.2L396.6 202.6L396.2 200.8L395.9 199L394.5 197.2L393.1 195.5L391.3 194L389.5 192.7L387.4 190.6L385.3 188.4L383.5 186.6L381.7 184.9L380 185L378.2 185.6L376.8 182.7ZM390.2 201.2L393 200.9L395.9 200.5L395.6 202.2L395.2 204L393 203.6L391 202.9ZM380.3 193.4L381.8 192.9L383.2 192.7L383.4 195.2L383.4 197.6L382.2 198.1L381 198.3L380.6 195.8Z"/>
<path class="u" fill="#fef0d9" stroke="#fef0d9" d="M386.7 179.7L389.2 179.6L391.7 179.4L391.4 181.2L389.6 181.4L387.7 181.5L387.4 180.6Z"/>
<path class="u" fill="#fef0d9" stroke="#fef0d9" d="M387.7 181.5L389.6 181.4L391.4 181.2L394 180.4L396.2 179.6L397.4 180.6L398.7 181.2L398.7 182.9L395.2 182.9L393.1 183.7L394.2 185.4L395.2 187.2L396.6 188.4L398 189.6L396.2 188.8L394.5 187.9L392.7 186.2L390.9 184.4L389.5 182.5Z"/>
<path class="u" fill="#fdd49e" stroke="#fdd49e" d="M393.1 183.7L395.2 182.9L398.7 182.9L399.5 183.7L399.8 185.4L399.5 186.5L398.8 188L398 189.6L396.6 188.4L395.2 187.2L394.2 185.4Z"/>
<path class="u" fill="#fef0d9" stroke="#fef0d9" d="M398.7 181.2L402.2 180.7L405.8 180.6L407.2 182.2L408.7 183.7L408.7 186.5L407.9 187.2L407.9 189.3L406.8 190L405.8 190.5L404.4 190L403 189.8L401.6 188.6L400.2 187.2L399.5 186.5L399.8 185.4L399.5 183.7L398.7 182.9Z"/>
<path class="u" fill="#fef0d9" stroke="#fef0d9" d="M398 189.6L398.8 188L399.5 186.5L400.2 187.2L401.6 188.6L403 189.8L401.2 190.6L400 191.2Z"/>
<path class="u" fill="#fef0d9" stroke="#fef0d9" d="M408.7 186.5L411.2 186.4L413.6 186.1L416.8 186L420 186.1L420.7 187L421.4 187.9L420.4 189.6L419.3 191.4L418.6 191.2L416.4 192.2L414.3 192.7L411.8 192.6L410.1 192L409 190.6L407.9 189.3L407.9 187.2Z"/>
<path class="u" fill="#fef0d9" stroke="#fef0d9" d="M400 191.2L401.2 190.6L403 189.8L404.4 190L405.8 190.5L406 192L406.2 193.4L405.5 194.6L404.8 195.5L404 194.4L403.4 193.4L402 192.4Z"/>
<path class="u" fill="#fef0d9" stroke="#fef0d9" d="M405.8 190.5L406.8 190L407.9 189.3L409 190.6L410.1 192L408.6 192.8L407.2 193.4L406.2 193.4L406 192Z"/>
<path class="u" fill="#fef0d9" stroke="#fef0d9" d="M404.8 195.5L405.5 194.6L406.2 193.4L407.2 193.4L408.6 192.8L410.1 192L411.8 192.6L414.3 192.7L416.4 192.2L418.6 191.2L418.3 192.4L417.9 193.4L415.8 194.2L413.6 194.8L412.6 195.6L411.5 196.2L412.2 198L412.9 199.7L413.3 201.6L413.6 203.3L412.6 204.4L411.5 205.4L410.4 203.6L409.4 201.9L408.3 200.4L407.2 199L406.3 197.6L405.5 196.2ZM413.6 207.5L416.8 207.6L420 208L419.7 209.1L417 209L414.3 208.8Z"/>
<path class="u" fill="#fdbb84" stroke="#fdbb84" d="M351.8 152.4L353.1 149.6L356.8 149L357.7 151.5L359.6 151.7L357.7 154.7L360 156.5L361.4 159.7L363.7 162.5L366 164L365.5 166.6L363.7 168L360 168.4L355.4 169.2L351.8 170.3L352.7 168.6L355.9 167.3L353.1 166.6L352.7 164.8L355 163.4L355.9 161.1L354.1 161.6L354.5 158.8L353.1 156.5L351.8 154.7ZM348.6 157.9L350.8 157.4L351.8 159.3L349.9 160.3Z"/>
<path class="u" fill="#fef0d9" stroke="#fef0d9" d="M343.5 165.2L344.4 160.6L346.7 158.3L348.6 158L349.9 160.3L351.8 160.6L350.8 163.4L348.6 165.2L345.3 166.1Z"/>
<path class="u" fill="#fdd49e" stroke="#fdd49e" d="M343.5 187.7L346 187L348.5 186.7L354.2 187L359.8 187.2L361.9 187.4L364 187.9L366.5 188.6L369 189.8L367.2 192L365.5 194.1L364.4 196.2L363.3 198.3L362.2 200.8L361.2 203.3L358.7 204L356.2 204.7L353.8 205.4L351.3 206.1L350.2 205.4L349.2 204.7L347.7 203.5L348.1 200.8L348.5 198.3L348.8 194.8L349.2 191.2L346.7 190.8L344.2 190.5Z"/>
<path class="u" fill="#fef0d9" stroke="#fef0d9" d="M344.2 190.5L346.7 190.8L349.2 191.2L348.8 194.8L348.5 198.3L348.1 200.8L347.7 203.5L345.8 203.5L343.8 203.3L343.3 200.8L342.8 198.3L343.5 194.4Z"/>
<path class="u" fill="#fef0d9" stroke="#fef0d9" d="M433.4 208L435.6 207.2L437.7 206.5L437 207.8L436.3 208.9L435.2 209.4L434.2 209.7Z"/>
<path class="u" fill="#fef0d9" stroke="#fef0d9" d="M379 103.4L382 101.8L386 101.2L389.6 102.4L392 104L390.4 106L387.6 107.6L384.6 108.6L382.6 106.6L380.4 105.4ZM393.4 101.6L397.6 101L402 101.8L400.4 103.4L396.6 104L394 103.2ZM396 106L398.4 105.6L398.8 107.2L396.6 107.4Z"/>
<path class="u" fill="#fdd49e" stroke="#fdd49e" d="M350.6 207.5L354.1 208.5L359.1 209L359.8 212.2L360.5 215.3L357 217.5L352 221L347 223.1L344.2 225.9L343.5 228.3L339 228.2L334.3 228.1L337.2 226.4L340 224.5L341.4 221.4L342.8 218.2L344.9 215.3L347 212.5L348.8 210Z"/>
<path class="u" fill="#fef0d9" stroke="#fef0d9" d="M359.1 209L363.3 206.5L367.6 205.4L371.8 204.7L376 204.2L380.3 204L381 206.8L380.3 209.3L379.6 211.8L381.4 214.2L383.2 216.7L383.9 219.6L384.6 222.4L384.6 228L384.6 233.7L387 235.8L388.8 239L380.3 244.6L371.8 250.3L369 248.6L359 241.8L349.4 235.5L348.5 231.9L343.5 228.4L343.5 228.3L344.2 225.9L347 223.1L352 221L357 217.5L360.5 215.3L359.8 212.2Z"/>
<path class="u" fill="#fef0d9" stroke="#fef0d9" d="M380.3 204L382.1 203.6L383.9 203.3L385 204.4L386 205.4L385.6 207.2L385.3 209L386.4 210.8L387.4 212.5L387 213.9L386.7 215.3L385.6 217.1L384.6 218.9L383.9 217.8L383.2 216.7L381.4 214.2L379.6 211.8L380.3 209.3L381 206.8Z"/>
<path class="u" fill="#fdbb84" stroke="#fdbb84" d="M386.7 215.3L389.2 215.3L391.7 215.3L394.5 216.4L397.3 217.5L400.8 219.1L404.4 220.7L406.6 218.4L408.7 216L411.5 215.6L414.3 215.3L416.1 216.8L417.9 218.2L417.6 220.3L417.4 222.4L418 226.6L418.6 230.9L419.2 237L419.6 243L419.7 248.2L417.9 248.9L406.9 245L395.9 241.1L392.4 240L388.8 239L387 235.8L384.6 233.7L384.6 228L384.6 222.4L384.6 218.9L385.6 217.1Z"/>
<path class="u" fill="#fdbb84" stroke="#fdbb84" d="M417.9 218.2L421.8 218.6L425.7 218.9L429.2 219.2L432.7 219.5L436.2 219.2L439.8 218.9L440.5 221.4L441.2 223.8L439.8 225.2L438.4 226.7L436.6 224.9L434.9 223.1L437.4 228.4L439.8 233.7L442.6 238.4L445.3 243.1L432.5 243.1L419.7 243.1L419.2 237L418.6 230.9L418 226.6L417.4 222.4L417.6 220.3Z"/>
<path class="u" fill="#fdd49e" stroke="#fdd49e" d="M343.5 228.4L348.5 231.9L349.4 235.5L350 247L350.6 258.8L343.8 259.5L337.1 260.2L335 258.4L332.9 256.7L330 257.1L327.2 257.4L326.2 254.2L325.1 251L324.8 248L324.4 245L328.6 244.6L332.9 244.2L333.2 242L333.6 239.7L336.4 239L337.1 236L337.8 233L343.5 232.6Z"/>
<path class="u" fill="#fef0d9" stroke="#fef0d9" d="M446.7 256.3L448.1 255.2L449.5 254L452 256.8L454.5 259.7L457.7 263.2L460.9 266.8L459.9 267.4L459 268L458.7 266.4L456.6 264.6L454.5 262.7L452 262.9L449.5 263.1L447.8 262.9L446.2 262.6L446.4 259.4Z"/>
<path class="u" fill="#fc8d59" stroke="#fc8d59" d="M446 286.2L447.4 287.4L448.8 288.6L452.4 289.8L455.9 291L458 290.9L457.6 296.2L457.3 301.5L457.6 304.4L458 307.2L455.4 309.8L452.9 312.5L451.2 310L449.4 307.6L446 305.2L442.5 302.9L443.2 300L443.9 297.2L442.8 294.4L441.7 291.6L441.7 289.6L441.7 287.5L443.8 286.9Z"/>
<path class="u" fill="#fc8d59" stroke="#fc8d59" d="M433.2 289.6L437.4 288.6L441.7 287.5L441.7 289.6L441.7 291.6L442.8 294.4L443.9 297.2L443.2 300L442.5 302.9L438.2 303.3L434 303.7L432.8 303.6L431.6 303.4L431.8 300.3L432.1 297.2L433.4 295.1L434.7 293L434 291.3Z"/>
<path class="u" fill="#fdbb84" stroke="#fdbb84" d="M431.6 303.4L432.8 303.6L434 303.7L434.2 305.4L433.6 307L432 307.4L430.6 307.2L430.3 305.2Z"/>
<path class="u" fill="#fdbb84" stroke="#fdbb84" d="M430.6 307.2L432 307.4L433.6 307L433.6 308.8L433.1 310.6L431.9 311.2L430.7 311.3L430 309.4Z"/>
<path class="u" fill="#e34a33" stroke="#e34a33" d="M434 303.7L438.2 303.3L442.5 302.9L446 305.2L449.4 307.6L451.2 310L452.9 312.5L452.5 315.1L452.2 317.7L453 320.5L453.7 323.3L454.8 325.6L455.8 327.8L452.6 329.2L449.4 330.5L445.8 330.5L442.3 330.5L441.8 328L441.2 325.5L440 325.4L438.8 325.3L438.1 324.9L437.4 324.6L436 323.5L434.5 322.4L433.8 321.1L433.1 319.8L432 316.6L431 313.4L430.8 312.4L430.7 311.3L431.9 311.2L433.1 310.6L433.6 308.8L433.6 307L434.2 305.4Z"/>
<path class="u" fill="#fdbb84" stroke="#fdbb84" d="M323.7 262.4L324.8 260.2L325.8 258.1L327.9 257.6L330 257.1L331.8 258.3L333.6 259.5L334.8 261.6L336.1 263.8L336.2 265.6L336.4 267.4L333.6 267.5L330.7 267.6L327.9 267.5L325.1 267.3L324.7 266.2L324.4 265.2L327.5 265.4L331 265L331 264.2L327.5 264.4L324.2 264Z"/>
<path class="u" fill="#fdd49e" stroke="#fdd49e" d="M332.9 276.5L334.3 275.3L335.7 274.1L337.4 274.8L339 275.5L339.6 277.1L339.8 278.7L338.1 280.6L336.4 282.6L335 281.4L333.6 280.1L333 278.4Z"/>
<path class="u" fill="#fc8d59" stroke="#fc8d59" d="M344.2 274.7L346.4 274.2L348.5 273.7L352 274.4L355.5 274.9L355.8 277.5L356.2 280.1L356.2 283.6L356 287.2L353.3 287.3L350.6 287.4L348.1 288L345.6 288.6L345.2 286.4L344.9 284.3L344.5 280.5L344.2 276.6Z"/>
<path class="u" fill="#fdbb84" stroke="#fdbb84" d="M351.3 271.6L352.4 269.4L353.4 267.3L355.6 265.9L357.7 264.5L359.8 262.8L361.9 261L363.3 262.4L364.7 265.9L367.9 266L371.1 265.9L370 267.7L369.3 269.4L367.4 270.2L365.6 271.1L363.3 271.3L359.8 271.5L356.2 271.7L355.8 273.3L355.5 274.9L352 274.4L348.5 273.7L350 272.6Z"/>
<path class="u" fill="#fdbb84" stroke="#fdbb84" d="M356.2 271.7L359.8 271.5L363.3 271.3L363.8 273.6L364.2 275.8L364.4 280.2L364.8 284.5L362.6 285.8L360.5 287.2L358.2 287.2L356 287.2L356.2 283.6L356.2 280.1L355.8 277.5L355.5 274.9L355.8 273.3Z"/>
<path class="u" fill="#fdd49e" stroke="#fdd49e" d="M363.3 271.3L364.4 271.2L365.6 271.1L366 275.8L366.4 280L367 284.3L365.9 284.4L364.8 284.5L364.4 280.2L364.2 275.8L363.8 273.6Z"/>
<path class="u" fill="#fc8d59" stroke="#fc8d59" d="M365.6 271.1L367.4 270.2L369.3 269.4L370.5 270.4L371.7 271.6L371.2 274.4L370.8 277.2L370 280.7L369.2 284.2L368.1 284.2L367 284.3L366.4 280L366 275.8Z"/>
<path class="u" fill="#fc8d59" stroke="#fc8d59" d="M395.6 267.6L397 269.1L398.7 270.9L398.4 272.6L398 274.3L396.6 274.5L395.2 274.7L396.6 276.7L398 278.7L397.3 280.4L396.6 282.2L397.6 285L398.7 287.9L399.4 290.4L400.2 292.9L399.8 294L399.5 295L396.3 294.6L393.1 294.3L389.5 294.3L386 294.3L385.8 292.2L385.7 290L384.3 288.4L382.9 286.7L383.9 284.6L384.9 282.5L386.3 282.2L387.7 281.8L389.8 279.6L391.9 277.5L393 274.4L394.1 271.2L394.8 269.4Z"/>
<path class="u" fill="#fdbb84" stroke="#fdbb84" d="M394.4 294.5L396.9 294.8L399.5 295L399.8 294L400.2 292.9L401 292.2L401.9 291.4L403.8 291.4L405.8 291.4L405.1 293.5L404.4 295.7L403.4 298.5L402.3 301.3L402 303.5L399.8 306.4L397.7 309.2L397 310.6L396.3 312L394.5 312.7L392.7 313.4L391.3 312.4L389.9 311.3L390.7 309.2L391.6 307.2L393.2 306.4L394.9 305.8L395.9 303.6L396.8 301.3L396 299.9L395.3 298.5L394.8 296.5Z"/>
<path class="u" fill="#e34a33" stroke="#e34a33" d="M391 313.1L392.7 313.6L392.5 315.5L391.3 315.5Z"/>
<path class="u" fill="#e34a33" stroke="#e34a33" d="M392.7 316.2L397 316.2L401.2 316.2L402.3 318.7L403.4 321.2L405.2 320.8L406.9 320.5L408.3 319.6L409.7 318.8L411.5 319.3L413.3 319.8L413.6 324.4L414 329L415.8 329L417.5 329L417.3 331.4L417.1 333.9L415.2 334.3L413.3 334.7L413.5 339.3L413.7 343.9L415.2 344.8L416.8 345.7L413.6 346.4L410.5 346.9L407.3 346.6L404.1 346.2L399.2 345.5L394.2 344.8L391.9 344.9L389.6 345L389.8 342L389.9 338.9L391.7 334.6L393.5 330.4L393.8 326.8L394.2 323.3L393.1 320.8L392 318.4Z"/>
<path class="u" fill="#fc8d59" stroke="#fc8d59" d="M417.1 333.9L417.3 331.4L417.5 329L420 329.7L422.5 330.4L424.6 331.1L426.7 331.8L428.5 332.6L430.3 333.4L429.6 331.2L428.9 329L428.9 326.1L428.9 323.2L431.7 322.8L434.5 322.4L436 323.5L437.4 324.6L438.1 326.8L438.8 329L438.8 332.2L438.8 335.4L438.1 336.9L435.2 338L432.4 339.1L430.6 340.5L428.9 341.9L426 344.4L423.2 346.9L420 346.3L416.8 345.7L415.2 344.8L413.7 343.9L413.5 339.3L413.3 334.7L415.2 334.3Z"/>
<path class="u" fill="#fdbb84" stroke="#fdbb84" d="M438.8 325.3L440 325.4L441.2 325.5L441.8 328L441.9 331.8L443.2 334.6L444.6 337.5L444.2 340.4L443.8 343.3L442.7 342.6L441.6 341.9L441.1 339.5L440.6 337L439.4 336.9L438.1 336.9L438.8 335.4L438.8 332.2L438.8 329L439.1 327.2Z"/>
<path class="u" fill="#e34a33" stroke="#e34a33" d="M442.3 330.5L445.8 330.5L449.4 330.5L452.6 329.2L455.8 327.8L456.2 333.4L456.5 338.9L455.1 341.4L453.7 343.9L450.2 346.7L446.6 349.5L444.4 351.6L442.3 353.8L442.6 356.6L443 359.5L442.6 361.2L442.3 363L439.8 364.8L437.4 366.5L436.7 368.4L436 370.3L435.5 369L435 367.6L434.5 366L434.2 362.2L433.8 358.3L435.2 355.1L436.7 351.9L437.4 348.7L438.1 345.6L437.8 343.4L437.4 341.3L434.9 340.2L432.4 339.1L435.2 338L438.1 336.9L439.4 336.9L440.6 337L441.1 339.5L441.6 341.9L442.7 342.6L443.8 343.3L444.2 340.4L444.6 337.5L443.2 334.6L441.9 331.8Z"/>
<path class="u" fill="#fdbb84" stroke="#fdbb84" d="M423.2 346.9L426 344.4L428.9 341.9L430.6 340.5L432.4 339.1L434.9 340.2L437.4 341.3L437.8 343.4L438.1 345.6L437.4 348.7L436.7 351.9L435.2 355.1L433.8 358.3L431.7 357.6L429.6 356.9L427.4 355.1L425.3 353.3L423.6 351.5L421.8 349.7L422.5 348.3Z"/>
<path class="u" fill="#fef0d9" stroke="#fef0d9" d="M410.5 346.9L413.6 346.4L416.8 345.7L420 346.3L423.2 346.9L422.5 348.3L421.8 349.7L423.6 351.5L425.3 353.3L427.4 355.1L429.6 356.9L428.9 358.3L428.2 359.7L426 360.8L423.9 361.8L421.8 363.9L419.7 366L417.6 366.7L415.4 367.4L414 368.8L412.6 370.3L411.2 369.6L409.7 368.9L409 365.2L408.3 361.6L409 359.4L409.7 357.3L410.1 352.1Z"/>
<path class="u" fill="#fdd49e" stroke="#fdd49e" d="M389.6 345L391.9 344.9L394.2 344.8L399.2 345.5L404.1 346.2L407.3 346.6L410.5 346.9L410.1 352.1L409.7 357.3L409 359.4L408.3 361.6L408 368L407.7 374.4L406.2 375.2L404.8 375.9L403 375.6L401.2 375.2L399.4 372.7L397.7 370.1L396.6 365.2L395.6 360.2L393.8 356L392 351.7L390.8 348.4Z"/>
<path class="u" fill="#fef0d9" stroke="#fef0d9" d="M431.7 368L433.1 367.6L434.5 367.4L435 369L435 370.8L433.7 371.2L432.4 371.5L431.8 369.8Z"/>
<path class="u" fill="#fdd49e" stroke="#fdd49e" d="M423.2 377.2L424.6 376.2L426 375.3L427.1 376.2L428.2 377.2L427.1 378.6L426 380L424.9 379.9L423.9 379.7Z"/>
<path class="u" fill="#fdd49e" stroke="#fdd49e" d="M440.9 223.6L444.2 223.3L447.5 220L445.3 217.5L450.8 214.2L455 216.9L462.5 222.6L466.7 224.3L468.3 226.5L470.8 228.3L472.6 230.2L474.3 232.1L476.4 234.6L477.2 236.6L478.6 237L480 239.2L480 240.9L484.2 241.4L488.5 242L487.8 245.2L487.1 248.4L484.2 249.8L481.4 251.2L477.8 251.6L474.3 251.9L470 253L465.8 254L463.4 254.8L460.9 255.5L457.7 251.6L454.5 247.7L452 244.2L449.5 240.6L446.7 236.4L443.9 232.1L442.4 228L441 225Z"/>
<path class="u" fill="#e34a33" stroke="#e34a33" d="M460.9 255.5L463.4 254.8L465.8 254.2L470 253.2L474.3 252.1L477.8 251.8L481.4 251.4L482.4 253.8L483.5 256.2L481.8 258L480 259.7L476.8 261.4L473.6 263.2L470.4 264.6L467.2 266.1L465 266.6L462.7 267.2L462.2 264.5L461.6 261.8L461.2 258.6Z"/>
<path class="u" fill="#fef0d9" stroke="#fef0d9" d="M481.4 251.4L484.2 250L487.1 248.6L487.8 245.4L488.5 242.2L489.2 239.2L489.9 236.3L491.3 236.6L492.7 237L495.2 239.2L497.7 241.3L496.3 244.8L494.9 248.4L492.4 251.2L489.9 254L487.8 255.1L485.7 256.2L484.6 256.3L483.5 256.2L482.4 253.8ZM488.8 232.4L489.8 232L490 234L489.2 234.2Z"/>
<path class="u" fill="#fef0d9" stroke="#fef0d9" d="M480 239.2L483.6 238.4L487.1 237.7L488.4 235.6L489.6 233.8L489.9 236.3L489.2 239.2L488.5 242L484.2 241.4L480 240.9Z"/>
<path class="u" fill="#fef0d9" stroke="#fef0d9" d="M476.9 232.8L478.6 232.4L478.9 236.3L477.2 236.6Z"/>
<path class="u" fill="#fdbb84" stroke="#fdbb84" d="M413.6 121L416.8 122.2L420 123.5L424.2 124.6L428.5 125.6L430.6 127L432.7 128.4L432.7 130.5L429.2 130.8L425.7 131L421.4 131.2L422.4 132.4L423.5 133.4L425.6 134.8L427.8 136.2L428.5 134.8L429.2 133.4L431 133.8L432.7 134.1L433.4 132.6L434.2 131.2L437 130.2L439.8 129.1L438.4 127.6L437 126.3L439.4 126.6L441.9 127L443 128L444.1 129.1L446.9 128L449.7 127L452.4 126.4L455 126.2L460 125L465 123.8L468.8 122.4L472.5 121.2L473.8 118.8L475 116.2L477.5 116.8L480 117.5L481.2 120L482.5 122.5L484.4 126.2L486.2 130L487.5 128.8L488.8 127.5L487 123L485 118.8L488.8 116.8L492.5 115L497.5 113L502.5 111.2L508.8 109.6L515 108L518 107.6L521.2 107.5L527.5 108.8L532.5 109.4L537.5 110L540 113.8L548.8 114.4L557.5 115L566.2 116.2L575 117.5L580 119.5L583.8 118.2L587.5 117L593.8 118L600 118.8L608.8 119.6L617.5 120.5L623.8 121.8L631 123.7L638 123.4L645.7 123L647 125L651 124.2L655 123.7L659 124L663 124.3L667 127L671 129.7L674.4 131.7L677.7 133.7L675.7 135L680.3 137L685.7 139.7L679 141L677.6 143L676.3 145L671 144.3L668 145.3L665 146.3L666 148.6L667 151L669.6 152.6L672.3 154.3L673.6 156.6L675 159L673.7 161.7L674.4 164.4L675 167L671 164.3L667.6 161L664.3 157.7L661.6 154.7L659 151.7L660 149.4L661 147L660.4 144L659.7 141L657.7 139.7L657 141.7L656.3 143.7L651 143L648.3 143.7L649.7 147L645.7 147.7L639 147L633.6 147.6L628.3 148.3L626.6 151.6L625 155L624.3 158.3L627.6 159.3L631 160.3L635 160.3L638.4 162.6L641.7 165L643.4 168L645 171L645.6 175L646.3 179L645.6 182.4L645 185.7L643.4 187L641.7 188.3L640 188.3L636.7 187.5L634.2 183.3L637.5 181.7L636.7 175L635 175.8L626.7 174.2L618.3 170.8L611.7 165L605 161.7L600 162.5L597.5 171.3L590 170L580 171.7L575 169.8L570 169.4L561.7 168.3L557.5 165.8L550 168.3L541.7 170L539.2 172.5L535 170L529.2 167.5L521.7 167.5L516.7 164.2L510.8 160L505 160.8L496.7 156.7L490 158.3L482.5 160.8L483.3 166.7L473.3 166.7L464.2 165.8L457.5 170.8L458.3 175L460.8 176.7L462.5 180L460 182.5L460.8 185L463.3 188.3L464.2 190L460 191.2L455 189.2L449.2 187.5L445 184.2L440.8 181.7L441.6 179.4L443.2 178.4L441.4 178.2L439.8 178L441.6 176.6L443.3 175.2L443 173L442.6 170.9L437.6 169.2L432.7 167.4L430.6 166L428.5 164.5L425.6 165.4L424.2 164.2L425.7 162.4L423.6 159.6L421.4 156.7L419.7 155.8L417.9 154.8L416.5 152.8L415 151.1L415 150.4L414.8 148.6L414.3 146.8L415 145L415.7 143.3L417.5 141.2L419.3 139L417.5 135.9L415.7 132.7L414.3 129.9L412.9 127L412.2 124.9L411.5 122.7L412.6 121.6ZM446.2 115L448 113L450 111.2L455 109.8L460 108.8L464 108.2L467.5 108L466.2 110L461 111.8L456.2 113.8L453.6 116.2L451.2 118.8L453.8 121.2L451.2 120.8L448.8 120L447.2 117.6ZM639 159.7L641 159.7L644 163L647 166.3L650.4 169.3L653.7 172.3L651.7 173.7L655 177.7L657 179.7L655 180.3L653 177.6L651 175L648.4 171.6L645.7 168.3L641.7 163.7ZM493.8 100.5L499 101.2L505 102.5L511 103.6L516.2 105L513.4 105.8L510 106.2L503.6 104.6L497.5 103ZM573.8 110L579 110.2L585 110.5L590.6 111.2L596.2 112L592 112.6L587.5 113L581 112.6L575 112ZM585 114.6L588 114L591.2 115L588.4 116L585.8 115.6ZM426 101.2L430 100.4L436 101L434.4 102.4L429.6 102.6ZM655.7 120.2L657 119.8L658.3 120.6L657 121.2Z"/>
<path class="u" fill="#fef0d9" stroke="#fef0d9" d="M457.5 170.8L464.2 165.8L473.3 166.7L483.3 166.7L482.5 160.8L490 158.3L496.7 156.7L505 160.8L510.8 160L516.7 164.2L521.7 167.5L529.2 167.5L535 170L539.2 172.5L537.5 177.5L533.3 178.3L531.7 182.5L529.2 183.3L530.8 188.5L525.8 189.2L518.3 187.5L513.3 189.2L510.8 192.5L508.3 191.7L505.8 189.2L501.7 190L498.3 185.8L491.7 183.3L485 181.7L479.2 182.5L478.3 185.8L480 190.8L475.8 190L472.5 189.2L470 185.8L472.5 182.5L470.8 179.7L465.8 178.3L462.5 180L460.8 176.7L458.3 175Z"/>
<path class="u" fill="#fef0d9" stroke="#fef0d9" d="M479.2 182.5L485 181.7L491.7 183.3L498.3 185.8L501.7 190L505.8 189.2L508.3 191.7L510.8 192.5L509.2 195L513.3 195.8L510 197.5L506.7 196.7L507.5 200.8L505 202.5L501.7 199.2L496.7 195L490 190.8L485 190L481.7 192.5L480 190.8L478.3 185.8Z"/>
<path class="u" fill="#fef0d9" stroke="#fef0d9" d="M477.5 193.3L475.8 190L480 190.8L481.7 192.5L485 190L490 190.8L496.7 195L501.7 199.2L505 202.5L500.8 204.2L497.5 206.7L494.2 205.8L490.8 202.5L485 200.8L478.7 203.3L477.5 198.3L475 195Z"/>
<path class="u" fill="#fef0d9" stroke="#fef0d9" d="M513.3 189.2L518.3 187.5L525.8 189.2L530.8 188.5L527.5 192.5L521.7 195.2L516.7 195L513.3 195.8L509.2 195L510.8 192.5Z"/>
<path class="u" fill="#fef0d9" stroke="#fef0d9" d="M507.5 200.8L506.7 196.7L510 197.5L513.3 195.8L516.7 195L521.7 195.2L520.8 198.3L523.3 199.2L522.5 201.7L517.5 202.5L513.3 200L510 203.3Z"/>
<path class="u" fill="#fef0d9" stroke="#fef0d9" d="M539.2 172.5L541.7 170L550 168.3L557.5 165.8L561.7 168.3L570 169.4L575 169.8L580 171.7L590 170L597.5 171.3L598.3 175L604.2 175.3L607.5 177.5L602.5 180L595.8 183.3L593.3 187.5L585 190.8L576.7 189.2L568.3 188L561.7 184.2L552.5 181.7L548.3 177.5L539.2 172.5Z"/>
<path class="u" fill="#e34a33" stroke="#e34a33" d="M597.5 171.3L600 162.5L605 161.7L611.7 165L618.3 170.8L626.7 174.2L635 175.8L636.7 175L637.5 181.7L634.2 183.3L636.7 187.5L635.4 188.8L632.9 191.3L630.4 192.9L627.9 195.8L624.2 196.7L622.1 197.5L621.3 194.2L619.2 195L616 197L615 200L617.2 201.4L619.6 202.5L622.1 201.7L626.7 203.8L624.8 206L622.9 208.3L625.8 210.8L628.8 214.6L631.7 218.3L634.2 224.2L633.3 228.3L630 235L626.7 240L620 242.5L615 244.2L611.7 247.5L608.3 245L605.8 244.6L603.3 242.5L599.2 240L595 241.7L594.2 241.7L590.8 243.5L586.7 238.3L583.3 233.3L581.7 227.5L578.3 225L573.3 224.2L568.3 226.7L567.5 227L561.7 227.5L560 227.5L552.5 225L545 220.8L541.7 220L536.7 215.8L535 210L530.8 207.5L525 204.2L522.5 201.7L523.3 199.2L520.8 198.3L521.7 195.2L527.5 192.5L530.8 188.5L529.2 183.3L531.7 182.5L533.3 178.3L537.5 177.5L539.2 172.5L548.3 177.5L552.5 181.7L561.7 184.2L568.3 188L576.7 189.2L585 190.8L593.3 187.5L595.8 183.3L602.5 180L607.5 177.5L604.2 175.3L598.3 175ZM610 248.3L613.3 248L614.2 250.8L611.7 252.5L609.7 250.8Z"/>
<path class="u" fill="#fef0d9" stroke="#fef0d9" d="M627.9 195.8L630.4 192.9L632.9 191.3L635.4 188.8L637.1 188.3L637.5 190.4L635.8 192.5L635.4 195.4L637.2 199.3L634.6 201.3L631.7 201.3L630.4 199.2L630 197.1Z"/>
<path class="u" fill="#fef0d9" stroke="#fef0d9" d="M634.6 201.3L637.2 199.3L640 201.7L642.5 204.6L643.8 207.1L642.1 209.6L639.2 210.4L637.5 208.8L635.8 205.4L635 203.3Z"/>
<path class="u" fill="#fdbb84" stroke="#fdbb84" d="M655.8 182.1L658.3 183.8L661.3 185.4L664.6 184.6L667.1 187.1L665.4 188.3L664.2 190L661.7 189.2L660 191.3L657.9 191.7L656.3 189.2L656.7 186.7ZM660 192.5L662.5 193.8L665 196.7L665.8 200.8L667.1 204.2L667.9 207.1L666.3 209.2L663.3 209.6L661.7 210.8L660 212.5L657.9 211.7L656.7 210.4L654.2 211.7L651.7 212.1L649.2 212.5L648.3 211.7L650.8 208.8L654.2 207.1L657.1 206.7L657.5 203.3L660 203.8L661.7 200.4L661.3 197.1L660 194.6ZM652.9 212.9L656.7 211.2L657.1 212.3L654.2 214.2ZM646.3 213.3L648.8 212.5L650.8 213.5L652.1 215L652.5 217.9L651.3 219.2L649.6 216.7L648.3 215.4Z"/>
<path class="u" fill="#b30000" stroke="#b30000" d="M500 223.3L508.3 221.7L512.5 218.3L515 212.5L518.3 209.2L517.5 205.8L522.5 201.7L525 204.2L524.2 210L529.2 211.7L526.7 216.7L525 222.5L520 227.5L518.3 230.8L522.5 233.3L521.7 236.7L517.5 238L511.7 234.7L503.3 234.2L501.7 233.3L501.7 230L503.3 227.5Z"/>
<path class="u" fill="#b30000" stroke="#b30000" d="M517.5 238L521.7 236.7L522.5 233.3L518.3 230.8L520 227.5L525 222.5L526.7 216.7L529.2 211.7L524.2 210L525 204.2L530.8 207.5L535 210L536.7 215.8L541.7 220L541.3 223.3L545 225.8L552.5 229.2L560.3 231.7L561.3 232L561.7 235L563.3 239.2L565.8 243.3L563.3 243.3L560 245L556.7 250L550 256.7L545.8 261.7L545.8 270.8L544.2 276.7L541.7 279.7L539.2 276.7L535 268.3L530.8 257.5L528.3 250L526.7 245.8L522.5 245L520 242.5ZM560 227.5L561.7 227.5L562.5 230.3L568.3 229.7L567.5 227L568.3 226.7L573.3 224.2L578.3 225L580 228.3L576.7 233.3L574.2 237.5L572 242.5L570.8 239.2L570 235L568.3 232L561.3 232L560.3 231.7Z"/>
<path class="u" fill="#fdbb84" stroke="#fdbb84" d="M541.7 220L545 220.8L552.5 225L560 227.5L560.3 231.7L552.5 229.2L545 225.8L541.3 223.3Z"/>
<path class="u" fill="#fef0d9" stroke="#fef0d9" d="M561.7 227.5L567.5 227L568.3 229.7L562.5 230.3Z"/>
<path class="u" fill="#fc8d59" stroke="#fc8d59" d="M561.3 232L568.3 232L570 235L570.8 239.2L572 243.3L570 240.8L568.3 242.5L565.8 243.3L563.3 239.2L561.7 235Z"/>
<path class="u" fill="#fef0d9" stroke="#fef0d9" d="M546.7 275.8L549.2 275L551.7 280L550 284.2L547.5 283.3L545.8 279.2Z"/>
<path class="u" fill="#fc8d59" stroke="#fc8d59" d="M578.3 225L581.7 227.5L583.3 233.3L586.7 238.3L590.8 243.5L588.3 245L585.8 248.3L585.8 254.2L587.5 259.2L590 265L590.8 271.7L589.2 273.3L588.3 266.7L585.8 260.8L584.2 256.7L581.7 259.2L578.3 257.5L576.7 251.7L573.3 245.8L572 242.5L574.2 237.5L576.7 233.3L580 228.3Z"/>
<path class="u" fill="#fdbb84" stroke="#fdbb84" d="M585.8 248.3L588.3 245L590.8 243.5L592.5 246.7L593.3 251.7L596.7 252.5L600.8 253.3L605 259.2L603.3 262.5L598.3 263.5L597.5 267.5L595 266.7L593.3 264.2L591.2 267.6L591.2 272.5L590.6 277.7L592.7 280L595.7 282.2L597.2 283L595.4 283.6L593.5 284.2L590.8 280.7L589 278.5L588.8 273.3L590.2 271.7L589.4 267.2L590 265L587.5 259.2L585.8 254.2Z"/>
<path class="u" fill="#fdbb84" stroke="#fdbb84" d="M590.8 243.5L594.2 241.7L596.7 242.5L599.2 245L601.7 245L602.5 250L606.7 255L609.2 260.8L607.5 263.3L605 262.5L605 259.2L600.8 253.3L596.7 252.5L593.3 251.7L592.5 246.7Z"/>
<path class="u" fill="#fc8d59" stroke="#fc8d59" d="M595 241.7L599.2 240L603.3 242.5L605.8 244.6L603.3 248.3L605.8 252.5L610 257.5L613 263.3L613.3 268.3L610 273.3L605 277.5L603.3 274.2L606.7 270.8L609.2 268.3L609.2 263.5L609.2 260.8L606.7 255L602.5 250L601.7 245L599.2 245L596.7 242.5Z"/>
<path class="u" fill="#fdbb84" stroke="#fdbb84" d="M598.3 263.5L603.3 262.5L605 262.5L607.5 263.3L609.2 263.5L609.2 268.3L606.7 270.8L603.3 272.5L599.2 270L597.5 267.5Z"/>
<path class="u" fill="#fdd49e" stroke="#fdd49e" d="M593.5 284.5L595.4 283.6L597.2 283L600.2 286.7L602.2 292L603.2 296.5L601 297.2L597.2 294.2L594.2 289Z"/>
<path class="u" fill="#fdd49e" stroke="#fdd49e" d="M616.3 296.7L619.2 293.9L623.4 291.7L627.7 287.5L631.2 282.5L633.3 282.5L635.5 286.1L637.9 286.8L636.9 288.9L632.6 289.6L629.8 291L628.4 293.9L623.4 296.7L619.2 298.1Z"/>
<path class="u" fill="#e34a33" stroke="#e34a33" d="M582.2 286.7L584.8 286.4L587.5 286.7L592 291.2L597.2 295L602.5 301L606.2 306.2L607.7 310L607.2 313.4L606.2 316L602.5 313L597.2 307L592 298.7L587.5 292.7L583.7 289ZM605.7 316.5L610 315.8L616.3 317.9L619.2 317.5L624.1 320.1L628.4 321.5L627.7 323.2L622 322.2L614.9 320.1L607.8 318.7ZM614.2 298.1L616.3 296.7L619.2 298.1L623.4 296.7L628.4 293.9L629.8 291L632.6 289.6L634.7 290L635.5 293.9L634.7 296L636.9 297.4L634.7 298.8L634 303.1L631.9 305.9L631.2 310.2L627.7 310.9L624.1 308.7L619.2 308.7L617 305.9L614.9 301.7ZM639.7 298.1L643.2 297.1L648.9 297.7L651.5 296.3L650.6 298.8L647.5 300.2L643.2 299.5L640.4 300.9L641.1 303.8L645.4 302.4L647.5 303.1L644.7 305.2L642.5 305.9L644.7 308.7L646.8 313L645.4 314.4L643.2 310.9L641.8 307.3L640.4 308L640.7 314.4L638.7 314.7L638.3 310.2L637.3 306.6L638.7 301.7ZM657.1 295.3L658.8 296L659.5 299.5L658.5 301.7L657.4 299.5ZM653.9 308.4L656 308.2L656.2 309.4L654.2 309.6ZM658.1 308L662.4 308L664.2 309.9L661 309.5L658.5 309.5ZM664.5 302.4L668.7 301.4L672.3 302.4L672.7 305.2L669.5 305.9L671.6 308L675.8 308.7L678.7 305.9L682.9 305.2L687.9 307.3L687.6 322.2L687.5 324.5L685 321.5L682.9 322.2L680.1 322.2L682.2 318.7L679.4 314.4L675.8 312.3L671.6 310.9L668.7 307.3L666.6 304.5ZM671.6 315.2L673 315L673.2 317.6L671.8 317.8ZM631.2 322.6L635.5 321.5L636.2 322.9L632.6 324ZM638.3 322.6L645.4 321.5L645.8 322.6L640.4 324ZM636.2 325L639.7 325.7L639 327.2L636.9 326.4ZM646.4 326.4L649.6 324.3L650.6 325L647.5 327.4Z"/>
<path class="u" fill="#fef0d9" stroke="#fef0d9" d="M649.6 324L652.5 322.6L655.3 322.2L654.6 323.2L651 325Z"/>
<path class="u" fill="#fc8d59" stroke="#fc8d59" d="M687.5 307L693.8 309.5L700 313.8L702.5 317.5L700 318.8L705 325L708.8 328L702.5 326.2L697.5 321.2L692.5 323.8L687.5 324.5ZM705 315L710 313.8L715 311.2L713.8 307.5L716.2 309.5L715.5 313.8L710 316.2L706.2 317ZM719.5 313.8L722 317.5L720.8 318Z"/>
<path class="u" fill="#e34a33" stroke="#e34a33" d="M636.9 252.8L640.4 252.1L641.5 256.3L640.4 260.6L643.2 263.4L647.5 264.8L649.6 268.4L651 271.2L648.9 270.5L646.8 267.7L644 266.2L641.1 265.5L639 266.2L639 262.7L636.9 258.5ZM642.5 270.5L645.4 269.8L646.8 272.6L646.1 275.5L644 273.3ZM647.5 272.6L650.3 271.9L650.6 274.7L648.2 275.5ZM643.2 280.4L646.8 278.3L649.6 278.3L651 275.5L653.2 276.9L653.9 281.8L652.5 285.4L650.3 284.7L648.9 281.8L646.1 281.1L644 281.8ZM632.6 278.3L636.9 271.2L637.9 271.9L634 278.3Z"/>
<path class="u" fill="#fdbb84" stroke="#fdbb84" d="M418.6 191.2L422.1 190.5L423.5 192.7L420 194.1ZM420 196.2L422.8 194.6L425.7 193.2L430 192L434.2 191.2L438.4 191.8L442.6 192.6L445.8 190.4L449.2 188L451.7 190.8L455.8 193L456.7 195L458.3 198L459.7 202.5L453.3 203.7L447.5 204.2L441.7 206.7L440.5 204L434.2 205.4L427.1 205.1L422.8 203.3L420 200.5Z"/>
<path class="u" fill="#fef0d9" stroke="#fef0d9" d="M448.8 188L451.8 187.6L455.3 188.8L458.8 190L460.7 191.8L459.4 192.6L457.6 192.1L455.3 192.6L451.8 191.8L450.3 190.9Z"/>
<path class="u" fill="#fef0d9" stroke="#fef0d9" d="M455.6 193L458.2 192.5L459.4 192.6L460.6 195.3L462.4 197.6L460.9 198.5L458.8 196.8L456.8 195.6Z"/>
<path class="u" fill="#fdbb84" stroke="#fdbb84" d="M459.4 192.6L460.7 191.8L463.5 192.1L465.9 191.5L467.6 193.8L469.4 195.3L468.2 195.9L467.9 199.7L465.9 197.4L464.1 198.5L462.4 197.6L460.6 195.3ZM458.6 197.4L460.9 198.5L461.8 199.4L459.6 199Z"/>
<path class="u" fill="#fc8d59" stroke="#fc8d59" d="M441.7 206.7L447.5 204.2L453.3 203.7L452.5 207.5L449.7 210L445 214.2L441.7 215L442 210.8Z"/>
<path class="u" fill="#fef0d9" stroke="#fef0d9" d="M440.6 210.6L442 210.8L441.8 213.6L440.4 214Z"/>
<path class="u" fill="#fef0d9" stroke="#fef0d9" d="M439.8 214.6L441.5 214.2L441.7 215.3L441.5 218.9L440.7 222.6L439.5 218.9Z"/>
<path class="u" fill="#fdd49e" stroke="#fdd49e" d="M441.7 215.3L445 214.4L449.7 210.2L450.8 214.2L445.3 217.5L447.5 220L444.2 223.3L440.9 223.6L441.5 218.9Z"/>
<path class="u" fill="#fdbb84" stroke="#fdbb84" d="M453.3 203.7L459.7 203L460.8 207.5L464.2 214.2L467.5 219.2L469.2 223.3L466.7 224.3L462.5 222.6L455 216.9L450.8 214.2L449.7 210L452.5 207.5Z"/>
<path class="u" fill="#fef0d9" stroke="#fef0d9" d="M466.7 224.3L469.2 223.3L470.3 225.8L468.3 226.5Z"/>
<path class="u" fill="#fdd49e" stroke="#fdd49e" d="M458.3 198L462.5 198.8L468.3 197.8L469.2 201.7L473.3 204.2L478.7 203.3L485 200.8L490.8 202.5L494.2 205.8L497.5 206.7L498 209.2L496.7 213.3L499.2 218.3L500 223.3L503.3 227.5L501.7 230L501.7 233.3L496.7 233.3L490.8 231.7L488.3 230L485 231.7L478.3 228.3L474.2 223.3L470.8 221.7L469.2 223.3L467.5 219.2L464.2 214.2L460.8 207.5L459.7 203Z"/>
<path class="u" fill="#fdd49e" stroke="#fdd49e" d="M614.2 388.9L616.5 386.3L617 382.4L617.4 378.3L617.6 374L617.7 369.5L618.4 365.5L619.1 361.5L620.4 359.2L621.8 357.1L625.8 355.2L629.7 353.6L633.7 352.2L637.7 350.9L639.5 348.2L641.2 345.6L643.8 342.9L646.5 340.3L649.6 338.4L652.7 336.8L655.4 337.6L658 338.6L659.8 335.4L661.5 332.4L663.8 331L666 329.7L667.8 330.8L669.5 332L672.6 331.7L675.7 331.5L676.2 332.8L676.6 334.1L674.8 335.9L673 337.7L675.2 339.9L677.4 342.1L679.6 344.1L681.9 346.1L683.6 344.6L685.4 343L686.3 339.4L687.2 335.9L688.4 332.4L689.5 328.8L690.6 331L691.6 333.3L692 335.5L692.5 337.7L693.8 339.4L695.1 341.2L695.6 344.3L696 347.4L697.8 350L699.5 352.7L700.4 355.4L701.3 358L703 360.6L704.8 363.3L705.4 366L706.1 368.6L705.4 371.7L704.8 374.8L703 377.9L701.3 381L698.6 384L696 387.1L692.9 390.2L689.8 393.3L686.2 396L682.7 398.6L679.2 400.4L675.7 402.2L673.5 401.3L671.3 400.4L668.6 399.5L666 398.6L665.1 396.4L664.2 394.2L664.6 390.6L665.1 387.1L663.3 388.9L661.5 390.7L659.8 389.8L658 388.9L656.2 386.2L654.5 383.6L651.8 383.1L649.2 382.7L644.8 383.6L640.3 384.5L636.8 386.2L633.3 388L629.8 388.9L626.2 389.8L622.6 390.7L619.1 391.6L617.4 391.3L615.6 391ZM669 407.5L672.8 407L676.6 406.6L676 408.4L675.3 410.1L673.3 411.8L671.3 413.6L669.5 413.4L667.7 413.3L668.3 410.4Z"/>
<path class="u" fill="#fef0d9" stroke="#fef0d9" d="M739.3 390.7L741.4 390.7L741.6 392.9L741.9 395.1L744.1 396.8L746.3 398.6L745.4 400L744.6 401.3L742.4 402.2L740.2 403L738.4 404.8L736.6 406.6L734.6 407.4L732.6 408.3L731.9 406.6L734.2 404.4L736.6 402.2L738 400L739.3 397.7L739.3 394.2ZM728.7 406.6L730.4 408.3L727.8 411L725.1 413.6L721.6 415.8L718.1 418.1L713.6 420.1L709.2 422.1L707.3 421.4L705.4 420.7L707.3 419L709.2 417.2L713.6 415L718.1 412.8L721.6 410.6L725.1 408.3Z"/>
<path fill="#fef0d9" d="M320.6 132.6L322 131.4L323.5 130.6L326.2 131L328.8 131.4L330.6 130.6L332.4 130.2L335 130.1L337.6 130.2L338.2 131.7L338.5 133.2L336.6 134.6L334.7 135.8L332.4 136.7L330 137.3L327.6 137L325.3 136.5L322.4 135.8L323.5 134.4L321.2 133.8Z"/>
<path fill="#fdd49e" d="M128 123L134 124.4L142 123.2L150 122.4L156 123.6L160 123.2L163.5 124.6L167 125.8L168.2 127.4L173 127.2L177.6 127L178.8 128.5L182.4 127.2L185.9 126.2L190.6 126.4L195.3 126.8L197.6 127.8L200 128.5L201.8 127.4L203.5 126.2L204.4 123.8L205.3 121.5L207.4 120.2L209.4 119.1L210.6 120.6L211.8 122.1L211.2 123.8L210.6 125.6L212.4 125.2L214.1 125L213.8 127L213.5 129.1L216.2 128L218.8 126.8L221.2 125.2L223.5 123.8L225 124L226.5 124.4L225.6 126.2L224.7 127.9L221.8 129.2L218.8 130.3L217 130.7L215.3 130.9L212.4 132.4L209.4 133.8L205.5 136.2L202 138L197 140.5L192 143L190 145.5L188 148L189 151L194 153L199 155.5L203.6 158L203 161L203 164L205 167L208 165L209 161L210 158L214 156L217 154L217.5 150L218 146L219.6 143.6L221.2 141.5L224.6 140.4L228.2 139.7L231.8 141.4L235.3 143.2L235.6 146L236 149L238.5 148.8L241 148L243 146.5L244.4 145L245.5 149.5L247 154L249.5 156.5L252 159L253 161.5L253.6 164L251.5 166L249 167L245 168L242 169L236 170L230 172L227 174L224 176L221 177.6L218 178L214 181L210 184L204 186.5L198 189L193 190.5L189 191L190 188L191 185L189 182L187 179L183 176.5L180 175L176 174L172 173.6L115 173.6L113 171L111 168L110 163L112 158L114 157L113 153L111 149L106 147L104 145.6Z"/>
<path fill="#fdd49e" d="M107 168.6L110 169L112 171L114 176L111.5 174.5L109 172ZM103.6 161L106 160L105.5 163L104.4 164.6ZM250 167L253 170L255 172L256 175L255.6 177L253 178.5L252 179L250 177.5L249 176L246 176L243 175.6L245 173L247 171ZM222.4 178L225 175L228 173L233 174L232 176L231 178L235 179L239 180L238 182L236 183L231 185.5L226 187L225 184L223.6 182ZM216.5 119.7L218.8 118L221.2 116.2L223.6 115.6L225.9 115L228.2 115.2L230.6 115.6L231.8 116.6L232.9 117.4L234.7 116.2L236.5 115L238.8 115.6L241.2 116.2L241.8 117.4L242.4 118.5L245.9 119.7L249.4 120.9L250 122.4L250.6 123.8L248.8 124.7L247.1 125.6L248.2 126.8L249.4 127.9L253 128.8L256.5 129.7L254.7 131.2L252.9 132.6L250 132L247.1 131.5L245.6 133L244.1 134.4L245.6 135.9L247.1 137.4L244.8 138.8L242.4 140.3L239.4 139.4L236.5 138.5L235 137L233.5 135.6L229.7 135.3L225.9 135L225.9 133.2L229.4 132.9L232.9 132.6L235 131.2L237.1 129.7L236.2 128L235.3 126.2L233.6 124.7L231.8 123.2L229.2 123.5L226.5 123.8L223.8 123.5L221.2 123.2L219.4 122.6L217.6 122.1ZM230.6 127.4L233 127.2L235.3 127.6L234.6 128.6L232 128.6ZM224.7 102.6L227 101.8L229.4 100.9L232.4 100.9L235.3 100.9L236.4 100L237.6 99.1L242.4 98.5L247.1 97.9L253.5 97.4L260 96.8L268 97L277 98L273 99.8L270 101L265 101.6L260 102.1L255.9 103.2L251.8 104.4L248.2 105.6L244.7 106.8L241.4 108L238.2 109.1L234.4 109.4L230.6 109.7L229.1 109.4L227.6 109.1L230.2 108L232.9 106.8L234.7 105.6L236.5 104.4L233.6 105L230.6 105.6L228.2 105.6L225.9 105.6ZM216.5 107.9L218.8 107.6L221.2 107.4L222.6 108.8L224.1 110.3L228.5 110.6L232.9 110.9L235.6 111.2L238.2 111.5L237.6 112.6L232.9 112.9L228.2 113.2L224.7 112.9L221.2 112.6L220.3 111.4L219.4 110.3ZM211.8 111.5L214.2 111.2L216.5 110.9L217.6 112.4L215.6 112.8L213.5 113.2ZM217.6 105L219.4 104.7L221.2 104.4L222.4 106.8L220.6 106.8L218.8 106.8ZM208.2 104.4L211.2 104.1L214.1 103.8L215.3 105.6L213 105.7L210.6 105.8ZM194.1 106.2L197.6 105.3L201.2 104.4L201.8 105.6L198.6 106.5L195.3 107.4ZM175.3 109.7L179.4 108.2L183.5 106.8L186.4 106.8L189.4 106.8L188.2 108.5L184.7 109.4L181.2 110.3L178.8 110.6L176.5 110.9ZM181.8 111.5L185 110.6L188.2 109.7L191.8 109.4L195.3 109.1L198 109.7L200.6 110.3L198 111.2L195.3 112.1L190.6 112.8L185.9 113.6ZM205.3 109.7L209.1 109.1L212.9 108.5L214.1 109.7L211.8 111L209.4 112.4L207.6 112L205.9 111.5ZM198.8 116.8L201.4 115.6L204.1 114.4L206.2 114.7L208.2 115L207.4 116.4L206.5 117.9L204.4 118.8L202.4 119.7L200.9 119.1L199.4 118.5ZM209.4 116.8L212.4 115.3L215.3 113.8L217.6 114.1L220 114.4L218.2 115.3L216.5 116.2L213.8 117L211.2 117.9ZM160 118.5L163.5 116.2L167 113.8L171.2 113.8L175.3 113.8L177.4 115L179.4 116.2L175.6 117L171.8 117.9L168.2 119.1L164.7 120.3L162 119.6ZM168.8 120.3L172 118.8L175.3 117.4L179.4 117.6L183.5 117.9L185.6 118.5L187.6 119.1L189.7 118L191.8 116.8L192.6 117.6L193.5 118.5L193.2 120.3L192.9 122.1L194.1 122.6L195.3 123.2L193 124.1L190.6 125L187 124.7L183.5 124.4L180.6 125.1L177.6 125.8L174.1 125.4L170.6 125L169.1 123.8L167.6 122.6ZM208.8 136.2L210.8 134.4L212.9 132.6L215.2 133.5L217.6 134.4L218.8 135.3L220 136.2L217.6 136.8L215.3 137.4L213.6 137.8L211.8 138.3ZM212 139.6L215 139.2L215.2 140.2L212.4 140.4Z"/>
<path fill="#fc8d59" d="M115 173.6L172 173.6L176 174L180 175L183 176.5L187 179L189 182L191 185L190 188L189 191L193 190.5L198 189L204 186.5L210 184L214 181L218 178L221 177.6L223 177.6L223.6 182L224 184L220.5 186L217 188L216 190L215 192L211 193L207 194L204.5 196.5L202 199L200.5 200.5L199 202L198.6 206L198 209.3L194 211.6L190 214L187.4 215.6L184.7 217.3L183.2 219L182.8 222L183.3 226.7L183.4 230L183.3 232.7L182 234.7L180.4 232.7L179.4 230L178.7 228L178.2 225L178 222L175.3 222.7L172.7 222L169.4 221.8L166 221.6L164 222.8L162 224L158.6 223.4L155.3 222.7L152.6 224L150 225.3L148 229L145.5 232L144 234L142.5 231L142 230L141 226L140 224.4L137 223.8L134 223L132 221L130 219L126 218L121 218L116 218L111 216.5L106 215L105 214L102 211L100 208L99 204L99 200L99.6 194L101 190L104 186L107 182L110 178L113 175.5Z"/>
<path fill="#fc8d59" d="M127.6 122.9L123.8 122.4L120 121.8L116.4 121.5L112.9 121.2L110.2 120.6L107.6 120L104.4 120.6L101.2 121.2L97 122L92.9 122.9L90 124.1L87.1 125.3L84.4 125.6L81.8 125.9L81.2 127.6L82.4 129.4L80.6 130.6L78 130.9L75.3 131.2L73 131.8L70.6 132.4L70.6 134.1L73 134.4L75.3 134.7L78 134.4L80.6 134.1L78.8 135.9L75.8 136.8L72.9 137.6L70 138.5L67.1 139.4L64.8 140.6L62.4 141.8L61.5 143L60.6 144.1L61.8 145.9L63.6 145.9L65.3 145.9L67.6 147L70 148.2L68.6 149.4L67.1 150.6L63.6 152.4L60 154.1L56.4 155.3L52.9 156.5L48.8 157.6L44.7 158.8L48.2 158.2L51.8 157.4L55.3 156.5L59.4 155.3L63.5 154.1L67 152.6L70.6 151.2L73.6 150L76.5 148.8L78.8 147.6L81.2 146.5L83.8 145.3L86.5 144.1L88 143.2L89.4 142.4L90.9 143L92.4 143.5L94.4 144.4L96.5 145.3L99.4 145.6L102.4 145.9L104.1 144.7L105 145.9L105.9 147.1L107.6 147.4L109.4 147.6L110.9 147L112.4 146.5L112.6 148.2L112.9 150L113.2 152.4L113.5 154.7L113 155.9L112.4 157.1L110.6 157.6L110.9 155.8L111.2 154.1L110.6 152.4L110 150.6L108.6 149.7L107.1 148.8L105.9 148L104.7 147.1L104.5 144.7ZM57.1 137.3L61.2 137.6L61.8 138.6L57.6 138.2ZM55.1 145.1L58.2 144.7L57.6 145.9L55.5 146ZM70 152.4L73.2 151.4L76.5 150.6L76.7 151.4L74 152.4L71.2 153.5Z"/>
<path fill="#fdbb84" d="M47.6 134.1L49.7 132.6L51.8 131.2L54.2 129.7L56.5 128.2L58.6 126.8L60.6 125.3L61.8 126.4L62.9 127.6L63.5 129.4L65.6 129.4L67.6 129.4L68.2 131.2L65.8 132L63.5 132.9L60.6 133.5L58.8 134.4L57.1 135.3L55.6 134.1L54.1 132.9L52.4 131.2L50.9 132L49.4 132.9ZM67.6 120.6L70 120L72.4 119.4L72.7 120.4L70.4 120.9L68.2 121.4Z"/>
<path fill="#fc8d59" d="M7.5 248L9.5 246.8L11.5 248L10 250.6L8 250.4ZM4.5 244.4L6 244.2L6.6 245.4L5 245.6ZM2 242.4L3 242.2L3.4 243L2.4 243.2Z"/>
<path fill="#e34a33" d="M105.6 215.4L112 216L116 218L119 218.6L124 218.2L128 218L130 219L132 222L134 223L137 224L140 224.4L141 227L142 230L143 233L144 234L142.6 237L142.4 240L143 243L144 246L146 249L148 251.4L151.5 251.6L155 251L156.6 249.6L158 248L159 246.4L160 245L163 244.6L166.4 244.4L166 247L165 250L163.8 251.6L162.4 253L159 253.4L156 254L156 257.4L154.5 259L153 260.6L150 259L147 257.4L144 258.4L141 259L137.5 257L134 254.6L130 252.4L126 250L124.6 248L123.6 246L124 244L124.4 242L122 238.5L120 235L117.5 230.5L115 226L113.6 222L112.4 218.6L111 217.4L110 218.6L111 223L112 227L113.2 230L114.4 233L115.4 236L116.4 239.4L115.4 240.4L114.4 240.6L113 237.6L112 235L110.5 232.5L109 230L107 227L107.5 225.5L108 224L107 221.5L106 219Z"/>
<path fill="#fdbb84" d="M156 254L159.6 253.6L160 257.4L162 258.6L160.8 260L159.6 261.4L158 262.4L156.4 263L154.5 262L153 260.6L154.5 259L156 257.4Z"/>
<path fill="#fef0d9" d="M159.6 253.6L162.4 253L162.4 255.4L162 257.6L161 258.2L160 257.4Z"/>
<path fill="#fdbb84" d="M162 258.6L165 258L168 258L170.5 258.8L172.4 260L171 261.2L169 262L167 262.6L165 263L164 264.6L163 266L162 265.2L161 264L159.6 262L160.8 260Z"/>
<path fill="#fef0d9" d="M156.4 263L158 262.4L159.6 261.6L161 263.6L162 265L160 265.6L158 264.6Z"/>
<path fill="#fef0d9" d="M167 270.4L168.6 270.8L170.4 271.2L171.8 273L173 275L173.8 276.6L174.4 278L173 278L172 277.4L170.4 275.6L169 274L167.6 273.6L166.4 273L166.6 271.6Z"/>
<path fill="#fef0d9" d="M173 275L175 276.6L177 277L180 275.5L183 276L186 277L185 278L184.8 280L183.5 281.4L182.6 279L181.4 278.4L179.5 278.6L178 280.6L176 281L174.6 279.4L173.8 277Z"/>
<path fill="#fef0d9" d="M171.6 242L174 240.6L177 239.4L180 240.2L183 241.4L186.5 243L190 245L192.6 246.2L195 247.4L194.6 248.4L194 248.8L191.5 248.6L189 248L187 246.4L185 245L182.5 244L180 243L178 242.6L176 242.6L173.6 243Z"/>
<path fill="#fdbb84" d="M194 252L196 251.4L198 251L198.6 249.6L196 249.2L196.4 248.4L199 248.4L200.4 249L200.6 251.6L200.8 254L199 253.6L198 253L196 252.8Z"/>
<path fill="#fdbb84" d="M200.4 249L203 248.6L205.4 250.2L207.6 252L205.8 252.6L204 253L202.4 253.6L200.8 254L200.6 251.6Z"/>
<path fill="#fef0d9" d="M185 252L187 251.8L189 252.4L188.6 253.4L188 254L186.6 254L185.6 253.6Z"/>
<path class="t" fill="#fef0d9" d="M187.4 230L190.6 230L191 231.6L189.4 232L188 231.4ZM187.4 235L188.6 235L189 238L188 238Z"/>
<path class="t" fill="#fef0d9" d="M220.6 254L221.6 254L221.6 255.2L220.6 255.2ZM222 257.6L223 257.6L223 259L222 259ZM223.4 262L224.4 262L224.4 263.4L223.4 263.4ZM224.6 265.4L225.6 265.4L225.6 266.6L224.6 266.6ZM221 271.6L223.2 271.6L223.2 273.6L221 273.6Z"/>
<path fill="#fdbb84" d="M198.5 268.2L199.4 269.4L198.5 270.5L196.5 273L195.5 275.5L196.5 278L196.5 280.5L198.5 282L203 283.5L207.5 285L207 288.5L207.5 292L208 296L205 296.5L202.5 297L201.2 300.5L201.8 304L202.2 309L201.2 313L202 309L200.5 306.5L196.5 306.5L193.5 305.5L191.5 303L190 302L188 300L184.5 298.2L180.5 297L181 296.5L182 294.5L184.5 291L185 287L184.8 283.5L183.5 281.4L184.8 280L185 278L186 277L188.5 274L190 272L193 271.5L196.5 270.5Z"/>
<path fill="#fc8d59" d="M198.5 270.5L199.6 269L202.5 269.2L203.5 271L208 272L211.5 273.5L215 272.5L219 272L222 273.2L224 272L223.6 274L223 276L225 278.5L222.5 282L222 284.5L223.5 286.5L223.2 287.8L219.5 290L215.2 291L215 293L216.8 294.2L213.5 296.5L210.5 298.2L208 296L207.5 292L207 288.5L207.5 285L203 283.5L198.5 282L196.5 280.5L196.5 278L195.5 275.5L196.5 273Z"/>
<path fill="#fef0d9" d="M225 278.5L227 279.5L229.5 282.5L231 285.5L229.5 289L230.5 292L232.5 295L229.5 296.5L227 297L225 295L225.5 291L223.2 287.8L223.5 286.5L222 284.5L222.5 282Z"/>
<path fill="#fef0d9" d="M231 285.5L234.5 284.5L238.2 285.2L237.8 288L238.5 291.5L237.5 294L235 294.2L232.5 295L230.5 292L229.5 289Z"/>
<path fill="#fdbb84" d="M180.5 297L178 299.5L176.5 304L176 309L177.5 311L177 313L180 313.5L182.5 311L185 308L188.5 305L190 302L188 300L184.5 298.2Z"/>
<path fill="#fdbb84" d="M177 313L180 313.5L182.5 311L185 308L188.5 305L190 302L191.5 303L193.5 305.5L196.5 306.5L200.5 306.5L202 309L201.2 313L199 313.6L196.6 314.8L194.4 316.6L193.8 318.8L193.6 321L194.8 322.6L196 324L198 324L200 324L200.4 325.6L201 327.4L203 327.8L205 328L205.4 331L205.6 334L205.2 337L205 340L205.8 342.6L206.4 345L205.2 346.6L204 348L202 346.6L200 345L196 342L192 339L190 336.6L188 334L186 329.6L184 325L181.5 321.5L179 318L177.2 316L175.6 314.4Z"/>
<path fill="#e34a33" d="M201.2 313L202.2 309L201.8 304L201.2 300.5L202.5 297L205 296.5L208 296L210.5 298.2L213.5 296.5L216.8 294.2L215 293L215.2 291L219.5 290L223.2 287.8L225.5 291L225 295L227 297L229.5 296.5L232.5 295L235 294.2L237.5 294L239 294L241 294.5L242.5 292L244 289.5L245 290.5L246.5 294L248 296.5L246.5 299.5L251 301.5L252 303L256 303.5L260 305L264.5 306L269 307L272.5 308.4L276 310L279 312.4L282 315L282.8 318L283 321L281.6 324.6L280 328L277.5 331.6L275 335L274.6 340L274.4 345L273.2 349.6L272 354L270.8 357L269.6 360L265.8 361.2L262 362L259 364.4L256 367L255 370L254 373L252.5 376.6L251 380L249 383.6L247 387L246 385.4L245 384L243 382.2L241 380.6L239 379.6L237 379L238.6 377L240 375L241.6 372.4L243 370L242 369L241 368L240 365.4L239 363L238 361L237 359L235 358L233 357L232 354L231 351L230.6 348L230.4 345L227.6 343.4L225 342L224.4 339.6L224 337.4L221 335.2L218 333L215.5 330.4L213 328L211.6 326.6L208.4 327.4L205 328L203 327.8L201 327.4L200.4 325.6L200 324L198 324L196 324L194.8 322.6L193.6 321L193.8 318.8L194.4 316.6L196.6 314.8L199 313.6Z"/>
<path fill="#fdbb84" d="M205 328L208.4 327.4L211.6 326.6L213 328L215.5 330.4L218 333L221 335.2L224 337.4L224.4 339.6L225 342L227.6 343.4L230.4 345L230.6 348L231 351L229.5 350.8L228 350.6L225.5 351.2L223 352L222 354.6L221 357.4L219 357.8L217 358L215.5 358.4L214 359L212.8 359.6L211.6 360L210.2 358L209 356L208.4 353.4L208 351L207 349L206 347L206.4 345L205.8 342.6L205 340L205.2 337L205.6 334L205.4 331Z"/>
<path fill="#fdd49e" d="M223 352L225.5 351.2L228 350.6L229.5 350.8L231 351.4L232 354L233 357L235 358L237 359L238 361L239 363L240 365.4L241 368L240.4 370L239.6 372L237.4 372.2L235 372L234 370.4L233 369L233.8 367L234.4 365L231.6 363.4L229 362L226 360.8L223 359.4L222.2 357.6L221.6 356L222.2 354Z"/>
<path fill="#fef0d9" d="M237 379L239 379.6L241 380.6L243 382.2L245 384L246 385.6L247 387.4L246 389.4L245 391L243 391.8L241 392L239 391.2L237 390L236.2 387.6L235.6 385L235.6 383L236 381Z"/>
<path fill="#fc8d59" d="M211.6 360L212.8 359.6L214 359L215.5 358.4L217 358L219 357.8L221 357.4L222.2 358.4L223 359.4L226 360.8L229 362L231.6 363.4L234.4 365L233.8 367L233 369L234 370.4L235 372L237.4 372.2L239.6 372L240.9 368.4L242.9 370L241.4 372.4L240 375L238.6 377L237 379L236 381L235.6 383L235.6 385L236.2 387.6L237 390L238.4 392L240 394L240.2 396.6L239.6 399L238 400.2L236 401L233.5 401.6L231 402L230.6 404.6L230 407.5L228 409L226 410L225.8 413.6L225.8 417.5L227 420.6L228.8 423.8L227.4 427L226 430L226 432.6L226 435L224 435.6L221.2 436L218.6 434.4L216.2 432.5L215.6 428.6L215 425L213 420L211.2 415L210.6 410L210 405L209.4 399L209 393L209.6 389L210 385L209 380L208 375L208.4 371L209 367L210.2 363.6ZM230 438.8L233.6 440.6L237.5 442.5L235 443.6L232.5 444.5L231 442L229.8 440Z"/>
<path fill="#fdd49e" d="M204 348L205 347.4L206 347L207 349L208 351L208.4 353.4L209 356L210.2 358L211.6 360L210.2 363.6L209 367L208.4 371L208 375L209 380L210 385L209.6 389L209 393L209.4 399L210 405L210.6 410L211.2 415L213 420L215 425L215.6 428.6L216.2 432.5L218.6 434.4L221.2 436L224 435.6L226 435L226.8 436.2L228 437L230 438.8L229.8 440L231 442L232.5 444.5L230 444.5L225.5 443L221.2 441L218 438.6L215 436L213 431.6L211.2 427.5L210 423.6L208.8 420L208.4 415.6L208 411L206.4 408L205 405L204.6 399L204.4 393L204.4 387L204.4 381L204.6 375L205 369L205.4 365L205.6 361L205 357L204.4 353Z"/>
<path fill="#fef0d9" d="M372.5 140.5L374.5 139L377.5 137.6L380.5 135.8L383.2 134.1L385.4 131.8L387.4 129.8L389.6 127.6L391.7 125.6L393.8 124L395.9 122.7L399.5 121.4L403 120.6L406 120.2L408.7 120.2L411.3 120.4L413.6 121L412.6 121.6L411.5 122L408.6 122.4L405.8 122.7L404.4 123.5L403 124.2L401.6 124.9L399.4 124.4L397.3 124.2L394.5 125.6L391.7 127L389.2 129.8L386.7 132.7L385.2 135.6L383.9 138.3L384.3 142.2L384.6 146.1L384.2 148.4L383.9 150.4L381.7 149.6L380 150.4L377.5 150.4L375.2 148.8L373.2 146.8L372.7 143.6Z"/>
<path fill="#fef0d9" d="M384.6 146.1L384.3 142.2L383.9 138.3L385.2 135.6L386.7 132.7L389.2 129.8L391.7 127L394.5 125.6L397.3 124.2L399.4 124.4L401.6 124.9L402.4 127.4L403 129.8L402.4 131.4L401.6 132.7L399.4 134.5L397.3 136.2L395.8 138.4L394.5 140.4L395.9 142.6L397.3 144.7L396.7 146.9L395.9 149L394.5 150.2L393.1 151.1L392.4 152.9L391.7 154.6L389.9 155.5L388.1 156L387 155L386 153.9L384.9 152.2L383.9 150.4L384.2 148.4Z"/>
<path fill="#fef0d9" d="M403 124.2L404.4 123.5L405.8 122.7L408.6 122.6L411.5 122.7L412.2 124.9L412.9 127L414.3 129.9L415.7 132.7L417.5 135.9L419.3 139L417.5 141.2L415.7 143.3L412.2 144.4L408.7 145.4L406.5 145.2L404.4 144.7L403 142.6L401.6 140.4L402.2 138.6L403 136.9L404.8 134.8L406.5 132.7L404.8 131.2L403 129.8L402.4 127.4L401.6 124.9Z"/>
<path fill="#fef0d9" d="M378.9 152.5L380.7 152L382.5 151.8L383 153.6L383.2 155.3L381.8 156.8L380.3 158.2L379.4 157.6L378.6 156.7L378.6 154.6ZM384.6 155.4L386.6 155.2L386.8 157.2L385.2 157.6Z"/>
<path fill="#fef0d9" d="M405.8 147.5L410 147L414.3 146.8L414.8 148.6L415 150.4L411.8 150.8L408.7 151.1L407 149.6Z"/>
<path fill="#fef0d9" d="M404.4 151.8L406.6 152.2L408.7 151.1L411.8 150.8L415 151.1L416.5 152.8L417.9 154.8L415.4 155.4L412.9 155.6L410.4 154.6L407.9 154L406 154.8L404.4 155Z"/>
<path fill="#fef0d9" d="M403.7 155.3L404.4 155L406 154.8L407.9 154.2L410.4 154.8L412.9 155.6L413.6 157L414.3 158.2L412.6 159.4L410.8 160.3L408.6 160.1L406.5 159.9L405.6 158.6L404 157.9Z"/>
<path fill="#fdbb84" d="M401.6 157.9L404 157.9L405.6 158.6L406.5 159.9L404 159.6L401.6 158.9Z"/>
<path fill="#fef0d9" d="M414.3 158.2L416.2 156.6L417.9 154.8L419.7 155.8L421.4 156.7L423.6 159.6L425.7 162.4L424.2 164.2L422.8 166.2L420 166.6L417.2 166.9L414 166.4L410.8 165.7L410.3 164L409.8 162.4L410.4 161.2L410.8 160.3L412.6 159.4Z"/>
<path fill="#fdd49e" d="M391.4 160.3L394.4 159.2L397.3 158.2L399.5 158.4L401.6 158.9L404 159.6L406.5 159.9L408.6 160.1L410.8 160.3L410.4 161.2L409.8 162.4L410.3 164L410.8 165.7L409.8 168L408.7 170.2L408.3 171.2L407.9 172.3L404 171.9L400.2 171.6L399.5 170.9L397 169.6L394.5 168.4L393 167.2L391.7 166L391.6 163Z"/>
<path fill="#fdbb84" d="M380.3 158.9L382.2 159.4L383.9 159.6L386 159.2L388.1 158.9L389.8 159.6L391.4 160.3L391.6 163L391.7 166L390 167.8L388.1 169.5L389.5 171.4L391 173.5L389.6 174.4L388.1 175.4L385.6 176L383.2 176.6L381 176.6L378.9 175.5L378.2 173.7L377.5 172L376.8 170.2L376.1 168.8L376.1 166L376.4 164L376.8 161.3L378.4 160Z"/>
<path fill="#fdd49e" d="M372.5 162.4L374.6 161.8L376.8 161.3L376.4 164L376.1 166L374.6 166.2L373.2 166.4L372.2 165.8L371.1 165.2L371.6 163.8Z"/>
<path fill="#fef0d9" d="M369.7 166.7L371.4 166.6L373.2 166.4L374.6 166.2L376.1 166L376.1 168.8L376.8 170.2L375.6 171L374.7 171.2L372.9 170.4L371.1 169.5L370.4 168.2Z"/>
<path fill="#fdbb84" d="M367.6 168.1L369 167.2L369.7 166.7L370.4 168.2L371.1 169.5L372.9 170.4L374.7 171.2L375.6 171L376.8 170.2L377.5 172L378.2 173.7L378.9 175.5L377.6 176.4L376.1 177.3L376.1 178.6L376.1 180.3L376.8 182.7L378.2 185.6L376.4 186.6L374.7 187.2L371.8 188L369 189.6L366.5 188.6L364 187.9L361.9 187.4L359.8 187.2L360.5 183L361.2 179.4L359.4 177.6L357.7 175.9L355.9 175.2L354.1 174.5L354.4 173.8L354.8 173L357.6 172.8L360.5 172.3L361.9 171.2L363.3 170.2L365.4 169.2ZM380.6 189.1L382.5 188.1L382.9 190L382.9 192L381 192.4L380.6 190.8Z"/>
<path fill="#fef0d9" d="M376.1 177.3L378.6 176.8L381 176.6L383.2 176.6L383.2 179.2L381 180L378.9 180.5L377.4 180.4L376.1 180.3Z"/>
<path fill="#fef0d9" d="M383.2 176.6L385.6 176L388.1 175.4L391 173.5L393.8 173.4L396.6 173.3L397.6 174.6L398.7 176L397.3 176.6L395.9 177.3L396.2 179.6L394 179.6L391.7 179.4L389.2 179.6L386.7 179.7L384.9 179.4L383.2 179.2Z"/>
<path fill="#fdd49e" d="M388.1 169.5L391.3 169L394.5 168.4L397 169.6L399.5 170.9L400.2 171.6L398.4 172.4L396.6 173.3L393.8 173.4L391 173.5L389.5 171.4Z"/>
<path fill="#fef0d9" d="M396.6 173.3L398.4 172.4L400.2 171.6L404 171.9L407.9 172.3L407.2 173.8L406.5 175.4L402.6 175.7L398.7 176L397.6 174.6Z"/>
<path fill="#fef0d9" d="M395.9 177.3L397.3 176.6L398.7 176L402.6 175.7L406.5 175.4L408.7 176.6L407.6 177.4L406.5 178L405.8 180.6L402.2 180.7L398.7 181.2L397.4 180.6L396.2 179.6Z"/>
<path fill="#fdbb84" d="M406.5 178L407.6 177.4L408.7 176.6L411.5 175.9L415 176.2L418.6 176.3L420.4 178.6L422.1 181.5L423.5 183L421.8 184.4L420 186.1L416.8 186L413.6 186.1L411.2 186.4L408.7 186.5L408.7 183.7L407.2 182.2L405.8 180.6Z"/>
<path fill="#fef0d9" d="M418.6 176.3L420.7 175.2L422.1 177.4L423.5 179.4L422.8 180.4L422.1 181.5L420.4 178.6Z"/>
<path fill="#fdd49e" d="M408.7 170.2L409.8 168L410.8 165.7L414 166.4L417.2 166.9L420 166.6L422.8 166.2L425.6 165.4L428.5 164.5L430.6 166L432.7 167.4L437.6 169.2L442.6 170.9L443 173L443.3 175.2L441.6 176.6L439.8 178L437 178.8L434.2 179.4L433 180.6L433.8 181.6L435.6 182.2L438 181.4L440.5 180.8L439.4 182.4L438.4 183.7L435.9 184.2L433.4 184.4L432 182.6L430.6 181.4L429.2 180.1L427.4 179.8L425.7 179.4L424.6 179.4L423.5 179.4L422.1 177.4L420.7 175.2L418.6 176.3L415 176.2L411.5 175.9L408.7 176.6L406.5 175.4L407.2 173.8L407.9 172.3L408.3 171.2Z"/>
<path fill="#fdd49e" d="M376.1 180.3L377.4 180.4L378.9 180.5L381 180L383.2 179.2L384.9 179.4L386.7 179.7L387.4 180.6L387.7 181.5L386.8 182.4L388.1 182.8L388.8 184.4L389.5 186.3L392 188.8L394.5 191.2L396.6 192.6L398.7 194.1L400.5 195.2L402.3 196.2L401.2 197L400.2 197.6L399 196.8L398 196.2L398.4 198L398.7 199.7L397.6 201.2L396.6 202.6L396.2 200.8L395.9 199L394.5 197.2L393.1 195.5L391.3 194L389.5 192.7L387.4 190.6L385.3 188.4L383.5 186.6L381.7 184.9L380 185L378.2 185.6L376.8 182.7ZM390.2 201.2L393 200.9L395.9 200.5L395.6 202.2L395.2 204L393 203.6L391 202.9ZM380.3 193.4L381.8 192.9L383.2 192.7L383.4 195.2L383.4 197.6L382.2 198.1L381 198.3L380.6 195.8Z"/>
<path fill="#fef0d9" d="M386.7 179.7L389.2 179.6L391.7 179.4L391.4 181.2L389.6 181.4L387.7 181.5L387.4 180.6Z"/>
<path fill="#fef0d9" d="M387.7 181.5L389.6 181.4L391.4 181.2L394 180.4L396.2 179.6L397.4 180.6L398.7 181.2L398.7 182.9L395.2 182.9L393.1 183.7L394.2 185.4L395.2 187.2L396.6 188.4L398 189.6L396.2 188.8L394.5 187.9L392.7 186.2L390.9 184.4L389.5 182.5Z"/>
<path fill="#fdd49e" d="M393.1 183.7L395.2 182.9L398.7 182.9L399.5 183.7L399.8 185.4L399.5 186.5L398.8 188L398 189.6L396.6 188.4L395.2 187.2L394.2 185.4Z"/>
<path fill="#fef0d9" d="M398.7 181.2L402.2 180.7L405.8 180.6L407.2 182.2L408.7 183.7L408.7 186.5L407.9 187.2L407.9 189.3L406.8 190L405.8 190.5L404.4 190L403 189.8L401.6 188.6L400.2 187.2L399.5 186.5L399.8 185.4L399.5 183.7L398.7 182.9Z"/>
<path fill="#fef0d9" d="M398 189.6L398.8 188L399.5 186.5L400.2 187.2L401.6 188.6L403 189.8L401.2 190.6L400 191.2Z"/>
<path fill="#fef0d9" d="M408.7 186.5L411.2 186.4L413.6 186.1L416.8 186L420 186.1L420.7 187L421.4 187.9L420.4 189.6L419.3 191.4L418.6 191.2L416.4 192.2L414.3 192.7L411.8 192.6L410.1 192L409 190.6L407.9 189.3L407.9 187.2Z"/>
<path fill="#fef0d9" d="M400 191.2L401.2 190.6L403 189.8L404.4 190L405.8 190.5L406 192L406.2 193.4L405.5 194.6L404.8 195.5L404 194.4L403.4 193.4L402 192.4Z"/>
<path fill="#fef0d9" d="M405.8 190.5L406.8 190L407.9 189.3L409 190.6L410.1 192L408.6 192.8L407.2 193.4L406.2 193.4L406 192Z"/>
<path fill="#fef0d9" d="M404.8 195.5L405.5 194.6L406.2 193.4L407.2 193.4L408.6 192.8L410.1 192L411.8 192.6L414.3 192.7L416.4 192.2L418.6 191.2L418.3 192.4L417.9 193.4L415.8 194.2L413.6 194.8L412.6 195.6L411.5 196.2L412.2 198L412.9 199.7L413.3 201.6L413.6 203.3L412.6 204.4L411.5 205.4L410.4 203.6L409.4 201.9L408.3 200.4L407.2 199L406.3 197.6L405.5 196.2ZM413.6 207.5L416.8 207.6L420 208L419.7 209.1L417 209L414.3 208.8Z"/>
<path fill="#fdbb84" d="M351.8 152.4L353.1 149.6L356.8 149L357.7 151.5L359.6 151.7L357.7 154.7L360 156.5L361.4 159.7L363.7 162.5L366 164L365.5 166.6L363.7 168L360 168.4L355.4 169.2L351.8 170.3L352.7 168.6L355.9 167.3L353.1 166.6L352.7 164.8L355 163.4L355.9 161.1L354.1 161.6L354.5 158.8L353.1 156.5L351.8 154.7ZM348.6 157.9L350.8 157.4L351.8 159.3L349.9 160.3Z"/>
<path fill="#fef0d9" d="M343.5 165.2L344.4 160.6L346.7 158.3L348.6 158L349.9 160.3L351.8 160.6L350.8 163.4L348.6 165.2L345.3 166.1Z"/>
<path fill="#fdd49e" d="M343.5 187.7L346 187L348.5 186.7L354.2 187L359.8 187.2L361.9 187.4L364 187.9L366.5 188.6L369 189.8L367.2 192L365.5 194.1L364.4 196.2L363.3 198.3L362.2 200.8L361.2 203.3L358.7 204L356.2 204.7L353.8 205.4L351.3 206.1L350.2 205.4L349.2 204.7L347.7 203.5L348.1 200.8L348.5 198.3L348.8 194.8L349.2 191.2L346.7 190.8L344.2 190.5Z"/>
<path fill="#fef0d9" d="M344.2 190.5L346.7 190.8L349.2 191.2L348.8 194.8L348.5 198.3L348.1 200.8L347.7 203.5L345.8 203.5L343.8 203.3L343.3 200.8L342.8 198.3L343.5 194.4Z"/>
<path fill="#fef0d9" d="M433.4 208L435.6 207.2L437.7 206.5L437 207.8L436.3 208.9L435.2 209.4L434.2 209.7Z"/>
<path fill="#fef0d9" d="M379 103.4L382 101.8L386 101.2L389.6 102.4L392 104L390.4 106L387.6 107.6L384.6 108.6L382.6 106.6L380.4 105.4ZM393.4 101.6L397.6 101L402 101.8L400.4 103.4L396.6 104L394 103.2ZM396 106L398.4 105.6L398.8 107.2L396.6 107.4Z"/>
<path fill="#fdd49e" d="M350.6 207.5L354.1 208.5L359.1 209L359.8 212.2L360.5 215.3L357 217.5L352 221L347 223.1L344.2 225.9L343.5 228.3L339 228.2L334.3 228.1L337.2 226.4L340 224.5L341.4 221.4L342.8 218.2L344.9 215.3L347 212.5L348.8 210Z"/>
<path fill="#fef0d9" d="M359.1 209L363.3 206.5L367.6 205.4L371.8 204.7L376 204.2L380.3 204L381 206.8L380.3 209.3L379.6 211.8L381.4 214.2L383.2 216.7L383.9 219.6L384.6 222.4L384.6 228L384.6 233.7L387 235.8L388.8 239L380.3 244.6L371.8 250.3L369 248.6L359 241.8L349.4 235.5L348.5 231.9L343.5 228.4L343.5 228.3L344.2 225.9L347 223.1L352 221L357 217.5L360.5 215.3L359.8 212.2Z"/>
<path fill="#fef0d9" d="M380.3 204L382.1 203.6L383.9 203.3L385 204.4L386 205.4L385.6 207.2L385.3 209L386.4 210.8L387.4 212.5L387 213.9L386.7 215.3L385.6 217.1L384.6 218.9L383.9 217.8L383.2 216.7L381.4 214.2L379.6 211.8L380.3 209.3L381 206.8Z"/>
<path fill="#fdbb84" d="M386.7 215.3L389.2 215.3L391.7 215.3L394.5 216.4L397.3 217.5L400.8 219.1L404.4 220.7L406.6 218.4L408.7 216L411.5 215.6L414.3 215.3L416.1 216.8L417.9 218.2L417.6 220.3L417.4 222.4L418 226.6L418.6 230.9L419.2 237L419.6 243L419.7 248.2L417.9 248.9L406.9 245L395.9 241.1L392.4 240L388.8 239L387 235.8L384.6 233.7L384.6 228L384.6 222.4L384.6 218.9L385.6 217.1Z"/>
<path fill="#fdbb84" d="M417.9 218.2L421.8 218.6L425.7 218.9L429.2 219.2L432.7 219.5L436.2 219.2L439.8 218.9L440.5 221.4L441.2 223.8L439.8 225.2L438.4 226.7L436.6 224.9L434.9 223.1L437.4 228.4L439.8 233.7L442.6 238.4L445.3 243.1L432.5 243.1L419.7 243.1L419.2 237L418.6 230.9L418 226.6L417.4 222.4L417.6 220.3Z"/>
<path fill="#fdd49e" d="M343.5 228.4L348.5 231.9L349.4 235.5L350 247L350.6 258.8L343.8 259.5L337.1 260.2L335 258.4L332.9 256.7L330 257.1L327.2 257.4L326.2 254.2L325.1 251L324.8 248L324.4 245L328.6 244.6L332.9 244.2L333.2 242L333.6 239.7L336.4 239L337.1 236L337.8 233L343.5 232.6Z"/>
<path fill="#fef0d9" d="M446.7 256.3L448.1 255.2L449.5 254L452 256.8L454.5 259.7L457.7 263.2L460.9 266.8L459.9 267.4L459 268L458.7 266.4L456.6 264.6L454.5 262.7L452 262.9L449.5 263.1L447.8 262.9L446.2 262.6L446.4 259.4Z"/>
<path fill="#fc8d59" d="M446 286.2L447.4 287.4L448.8 288.6L452.4 289.8L455.9 291L458 290.9L457.6 296.2L457.3 301.5L457.6 304.4L458 307.2L455.4 309.8L452.9 312.5L451.2 310L449.4 307.6L446 305.2L442.5 302.9L443.2 300L443.9 297.2L442.8 294.4L441.7 291.6L441.7 289.6L441.7 287.5L443.8 286.9Z"/>
<path fill="#fc8d59" d="M433.2 289.6L437.4 288.6L441.7 287.5L441.7 289.6L441.7 291.6L442.8 294.4L443.9 297.2L443.2 300L442.5 302.9L438.2 303.3L434 303.7L432.8 303.6L431.6 303.4L431.8 300.3L432.1 297.2L433.4 295.1L434.7 293L434 291.3Z"/>
<path fill="#fdbb84" d="M431.6 303.4L432.8 303.6L434 303.7L434.2 305.4L433.6 307L432 307.4L430.6 307.2L430.3 305.2Z"/>
<path fill="#fdbb84" d="M430.6 307.2L432 307.4L433.6 307L433.6 308.8L433.1 310.6L431.9 311.2L430.7 311.3L430 309.4Z"/>
<path fill="#e34a33" d="M434 303.7L438.2 303.3L442.5 302.9L446 305.2L449.4 307.6L451.2 310L452.9 312.5L452.5 315.1L452.2 317.7L453 320.5L453.7 323.3L454.8 325.6L455.8 327.8L452.6 329.2L449.4 330.5L445.8 330.5L442.3 330.5L441.8 328L441.2 325.5L440 325.4L438.8 325.3L438.1 324.9L437.4 324.6L436 323.5L434.5 322.4L433.8 321.1L433.1 319.8L432 316.6L431 313.4L430.8 312.4L430.7 311.3L431.9 311.2L433.1 310.6L433.6 308.8L433.6 307L434.2 305.4Z"/>
<path fill="#fdbb84" d="M323.7 262.4L324.8 260.2L325.8 258.1L327.9 257.6L330 257.1L331.8 258.3L333.6 259.5L334.8 261.6L336.1 263.8L336.2 265.6L336.4 267.4L333.6 267.5L330.7 267.6L327.9 267.5L325.1 267.3L324.7 266.2L324.4 265.2L327.5 265.4L331 265L331 264.2L327.5 264.4L324.2 264Z"/>
<path fill="#fdd49e" d="M332.9 276.5L334.3 275.3L335.7 274.1L337.4 274.8L339 275.5L339.6 277.1L339.8 278.7L338.1 280.6L336.4 282.6L335 281.4L333.6 280.1L333 278.4Z"/>
<path fill="#fc8d59" d="M344.2 274.7L346.4 274.2L348.5 273.7L352 274.4L355.5 274.9L355.8 277.5L356.2 280.1L356.2 283.6L356 287.2L353.3 287.3L350.6 287.4L348.1 288L345.6 288.6L345.2 286.4L344.9 284.3L344.5 280.5L344.2 276.6Z"/>
<path fill="#fdbb84" d="M351.3 271.6L352.4 269.4L353.4 267.3L355.6 265.9L357.7 264.5L359.8 262.8L361.9 261L363.3 262.4L364.7 265.9L367.9 266L371.1 265.9L370 267.7L369.3 269.4L367.4 270.2L365.6 271.1L363.3 271.3L359.8 271.5L356.2 271.7L355.8 273.3L355.5 274.9L352 274.4L348.5 273.7L350 272.6Z"/>
<path fill="#fdbb84" d="M356.2 271.7L359.8 271.5L363.3 271.3L363.8 273.6L364.2 275.8L364.4 280.2L364.8 284.5L362.6 285.8L360.5 287.2L358.2 287.2L356 287.2L356.2 283.6L356.2 280.1L355.8 277.5L355.5 274.9L355.8 273.3Z"/>
<path fill="#fdd49e" d="M363.3 271.3L364.4 271.2L365.6 271.1L366 275.8L366.4 280L367 284.3L365.9 284.4L364.8 284.5L364.4 280.2L364.2 275.8L363.8 273.6Z"/>
<path fill="#fc8d59" d="M365.6 271.1L367.4 270.2L369.3 269.4L370.5 270.4L371.7 271.6L371.2 274.4L370.8 277.2L370 280.7L369.2 284.2L368.1 284.2L367 284.3L366.4 280L366 275.8Z"/>
<path fill="#fc8d59" d="M395.6 267.6L397 269.1L398.7 270.9L398.4 272.6L398 274.3L396.6 274.5L395.2 274.7L396.6 276.7L398 278.7L397.3 280.4L396.6 282.2L397.6 285L398.7 287.9L399.4 290.4L400.2 292.9L399.8 294L399.5 295L396.3 294.6L393.1 294.3L389.5 294.3L386 294.3L385.8 292.2L385.7 290L384.3 288.4L382.9 286.7L383.9 284.6L384.9 282.5L386.3 282.2L387.7 281.8L389.8 279.6L391.9 277.5L393 274.4L394.1 271.2L394.8 269.4Z"/>
<path fill="#fdbb84" d="M394.4 294.5L396.9 294.8L399.5 295L399.8 294L400.2 292.9L401 292.2L401.9 291.4L403.8 291.4L405.8 291.4L405.1 293.5L404.4 295.7L403.4 298.5L402.3 301.3L402 303.5L399.8 306.4L397.7 309.2L397 310.6L396.3 312L394.5 312.7L392.7 313.4L391.3 312.4L389.9 311.3L390.7 309.2L391.6 307.2L393.2 306.4L394.9 305.8L395.9 303.6L396.8 301.3L396 299.9L395.3 298.5L394.8 296.5Z"/>
<path fill="#e34a33" d="M391 313.1L392.7 313.6L392.5 315.5L391.3 315.5Z"/>
<path fill="#e34a33" d="M392.7 316.2L397 316.2L401.2 316.2L402.3 318.7L403.4 321.2L405.2 320.8L406.9 320.5L408.3 319.6L409.7 318.8L411.5 319.3L413.3 319.8L413.6 324.4L414 329L415.8 329L417.5 329L417.3 331.4L417.1 333.9L415.2 334.3L413.3 334.7L413.5 339.3L413.7 343.9L415.2 344.8L416.8 345.7L413.6 346.4L410.5 346.9L407.3 346.6L404.1 346.2L399.2 345.5L394.2 344.8L391.9 344.9L389.6 345L389.8 342L389.9 338.9L391.7 334.6L393.5 330.4L393.8 326.8L394.2 323.3L393.1 320.8L392 318.4Z"/>
<path fill="#fc8d59" d="M417.1 333.9L417.3 331.4L417.5 329L420 329.7L422.5 330.4L424.6 331.1L426.7 331.8L428.5 332.6L430.3 333.4L429.6 331.2L428.9 329L428.9 326.1L428.9 323.2L431.7 322.8L434.5 322.4L436 323.5L437.4 324.6L438.1 326.8L438.8 329L438.8 332.2L438.8 335.4L438.1 336.9L435.2 338L432.4 339.1L430.6 340.5L428.9 341.9L426 344.4L423.2 346.9L420 346.3L416.8 345.7L415.2 344.8L413.7 343.9L413.5 339.3L413.3 334.7L415.2 334.3Z"/>
<path fill="#fdbb84" d="M438.8 325.3L440 325.4L441.2 325.5L441.8 328L441.9 331.8L443.2 334.6L444.6 337.5L444.2 340.4L443.8 343.3L442.7 342.6L441.6 341.9L441.1 339.5L440.6 337L439.4 336.9L438.1 336.9L438.8 335.4L438.8 332.2L438.8 329L439.1 327.2Z"/>
<path fill="#e34a33" d="M442.3 330.5L445.8 330.5L449.4 330.5L452.6 329.2L455.8 327.8L456.2 333.4L456.5 338.9L455.1 341.4L453.7 343.9L450.2 346.7L446.6 349.5L444.4 351.6L442.3 353.8L442.6 356.6L443 359.5L442.6 361.2L442.3 363L439.8 364.8L437.4 366.5L436.7 368.4L436 370.3L435.5 369L435 367.6L434.5 366L434.2 362.2L433.8 358.3L435.2 355.1L436.7 351.9L437.4 348.7L438.1 345.6L437.8 343.4L437.4 341.3L434.9 340.2L432.4 339.1L435.2 338L438.1 336.9L439.4 336.9L440.6 337L441.1 339.5L441.6 341.9L442.7 342.6L443.8 343.3L444.2 340.4L444.6 337.5L443.2 334.6L441.9 331.8Z"/>
<path fill="#fdbb84" d="M423.2 346.9L426 344.4L428.9 341.9L430.6 340.5L432.4 339.1L434.9 340.2L437.4 341.3L437.8 343.4L438.1 345.6L437.4 348.7L436.7 351.9L435.2 355.1L433.8 358.3L431.7 357.6L429.6 356.9L427.4 355.1L425.3 353.3L423.6 351.5L421.8 349.7L422.5 348.3Z"/>
<path fill="#fef0d9" d="M410.5 346.9L413.6 346.4L416.8 345.7L420 346.3L423.2 346.9L422.5 348.3L421.8 349.7L423.6 351.5L425.3 353.3L427.4 355.1L429.6 356.9L428.9 358.3L428.2 359.7L426 360.8L423.9 361.8L421.8 363.9L419.7 366L417.6 366.7L415.4 367.4L414 368.8L412.6 370.3L411.2 369.6L409.7 368.9L409 365.2L408.3 361.6L409 359.4L409.7 357.3L410.1 352.1Z"/>
<path fill="#fdd49e" d="M389.6 345L391.9 344.9L394.2 344.8L399.2 345.5L404.1 346.2L407.3 346.6L410.5 346.9L410.1 352.1L409.7 357.3L409 359.4L408.3 361.6L408 368L407.7 374.4L406.2 375.2L404.8 375.9L403 375.6L401.2 375.2L399.4 372.7L397.7 370.1L396.6 365.2L395.6 360.2L393.8 356L392 351.7L390.8 348.4Z"/>
<path fill="#fef0d9" d="M431.7 368L433.1 367.6L434.5 367.4L435 369L435 370.8L433.7 371.2L432.4 371.5L431.8 369.8Z"/>
<path fill="#fdd49e" d="M423.2 377.2L424.6 376.2L426 375.3L427.1 376.2L428.2 377.2L427.1 378.6L426 380L424.9 379.9L423.9 379.7Z"/>
<path fill="#fdd49e" d="M440.9 223.6L444.2 223.3L447.5 220L445.3 217.5L450.8 214.2L455 216.9L462.5 222.6L466.7 224.3L468.3 226.5L470.8 228.3L472.6 230.2L474.3 232.1L476.4 234.6L477.2 236.6L478.6 237L480 239.2L480 240.9L484.2 241.4L488.5 242L487.8 245.2L487.1 248.4L484.2 249.8L481.4 251.2L477.8 251.6L474.3 251.9L470 253L465.8 254L463.4 254.8L460.9 255.5L457.7 251.6L454.5 247.7L452 244.2L449.5 240.6L446.7 236.4L443.9 232.1L442.4 228L441 225Z"/>
<path fill="#e34a33" d="M460.9 255.5L463.4 254.8L465.8 254.2L470 253.2L474.3 252.1L477.8 251.8L481.4 251.4L482.4 253.8L483.5 256.2L481.8 258L480 259.7L476.8 261.4L473.6 263.2L470.4 264.6L467.2 266.1L465 266.6L462.7 267.2L462.2 264.5L461.6 261.8L461.2 258.6Z"/>
<path fill="#fef0d9" d="M481.4 251.4L484.2 250L487.1 248.6L487.8 245.4L488.5 242.2L489.2 239.2L489.9 236.3L491.3 236.6L492.7 237L495.2 239.2L497.7 241.3L496.3 244.8L494.9 248.4L492.4 251.2L489.9 254L487.8 255.1L485.7 256.2L484.6 256.3L483.5 256.2L482.4 253.8ZM488.8 232.4L489.8 232L490 234L489.2 234.2Z"/>
<path fill="#fef0d9" d="M480 239.2L483.6 238.4L487.1 237.7L488.4 235.6L489.6 233.8L489.9 236.3L489.2 239.2L488.5 242L484.2 241.4L480 240.9Z"/>
<path fill="#fef0d9" d="M476.9 232.8L478.6 232.4L478.9 236.3L477.2 236.6Z"/>
<path fill="#fdbb84" d="M413.6 121L416.8 122.2L420 123.5L424.2 124.6L428.5 125.6L430.6 127L432.7 128.4L432.7 130.5L429.2 130.8L425.7 131L421.4 131.2L422.4 132.4L423.5 133.4L425.6 134.8L427.8 136.2L428.5 134.8L429.2 133.4L431 133.8L432.7 134.1L433.4 132.6L434.2 131.2L437 130.2L439.8 129.1L438.4 127.6L437 126.3L439.4 126.6L441.9 127L443 128L444.1 129.1L446.9 128L449.7 127L452.4 126.4L455 126.2L460 125L465 123.8L468.8 122.4L472.5 121.2L473.8 118.8L475 116.2L477.5 116.8L480 117.5L481.2 120L482.5 122.5L484.4 126.2L486.2 130L487.5 128.8L488.8 127.5L487 123L485 118.8L488.8 116.8L492.5 115L497.5 113L502.5 111.2L508.8 109.6L515 108L518 107.6L521.2 107.5L527.5 108.8L532.5 109.4L537.5 110L540 113.8L548.8 114.4L557.5 115L566.2 116.2L575 117.5L580 119.5L583.8 118.2L587.5 117L593.8 118L600 118.8L608.8 119.6L617.5 120.5L623.8 121.8L631 123.7L638 123.4L645.7 123L647 125L651 124.2L655 123.7L659 124L663 124.3L667 127L671 129.7L674.4 131.7L677.7 133.7L675.7 135L680.3 137L685.7 139.7L679 141L677.6 143L676.3 145L671 144.3L668 145.3L665 146.3L666 148.6L667 151L669.6 152.6L672.3 154.3L673.6 156.6L675 159L673.7 161.7L674.4 164.4L675 167L671 164.3L667.6 161L664.3 157.7L661.6 154.7L659 151.7L660 149.4L661 147L660.4 144L659.7 141L657.7 139.7L657 141.7L656.3 143.7L651 143L648.3 143.7L649.7 147L645.7 147.7L639 147L633.6 147.6L628.3 148.3L626.6 151.6L625 155L624.3 158.3L627.6 159.3L631 160.3L635 160.3L638.4 162.6L641.7 165L643.4 168L645 171L645.6 175L646.3 179L645.6 182.4L645 185.7L643.4 187L641.7 188.3L640 188.3L636.7 187.5L634.2 183.3L637.5 181.7L636.7 175L635 175.8L626.7 174.2L618.3 170.8L611.7 165L605 161.7L600 162.5L597.5 171.3L590 170L580 171.7L575 169.8L570 169.4L561.7 168.3L557.5 165.8L550 168.3L541.7 170L539.2 172.5L535 170L529.2 167.5L521.7 167.5L516.7 164.2L510.8 160L505 160.8L496.7 156.7L490 158.3L482.5 160.8L483.3 166.7L473.3 166.7L464.2 165.8L457.5 170.8L458.3 175L460.8 176.7L462.5 180L460 182.5L460.8 185L463.3 188.3L464.2 190L460 191.2L455 189.2L449.2 187.5L445 184.2L440.8 181.7L441.6 179.4L443.2 178.4L441.4 178.2L439.8 178L441.6 176.6L443.3 175.2L443 173L442.6 170.9L437.6 169.2L432.7 167.4L430.6 166L428.5 164.5L425.6 165.4L424.2 164.2L425.7 162.4L423.6 159.6L421.4 156.7L419.7 155.8L417.9 154.8L416.5 152.8L415 151.1L415 150.4L414.8 148.6L414.3 146.8L415 145L415.7 143.3L417.5 141.2L419.3 139L417.5 135.9L415.7 132.7L414.3 129.9L412.9 127L412.2 124.9L411.5 122.7L412.6 121.6ZM446.2 115L448 113L450 111.2L455 109.8L460 108.8L464 108.2L467.5 108L466.2 110L461 111.8L456.2 113.8L453.6 116.2L451.2 118.8L453.8 121.2L451.2 120.8L448.8 120L447.2 117.6ZM639 159.7L641 159.7L644 163L647 166.3L650.4 169.3L653.7 172.3L651.7 173.7L655 177.7L657 179.7L655 180.3L653 177.6L651 175L648.4 171.6L645.7 168.3L641.7 163.7ZM493.8 100.5L499 101.2L505 102.5L511 103.6L516.2 105L513.4 105.8L510 106.2L503.6 104.6L497.5 103ZM573.8 110L579 110.2L585 110.5L590.6 111.2L596.2 112L592 112.6L587.5 113L581 112.6L575 112ZM585 114.6L588 114L591.2 115L588.4 116L585.8 115.6ZM426 101.2L430 100.4L436 101L434.4 102.4L429.6 102.6ZM655.7 120.2L657 119.8L658.3 120.6L657 121.2Z"/>
<path fill="#fef0d9" d="M457.5 170.8L464.2 165.8L473.3 166.7L483.3 166.7L482.5 160.8L490 158.3L496.7 156.7L505 160.8L510.8 160L516.7 164.2L521.7 167.5L529.2 167.5L535 170L539.2 172.5L537.5 177.5L533.3 178.3L531.7 182.5L529.2 183.3L530.8 188.5L525.8 189.2L518.3 187.5L513.3 189.2L510.8 192.5L508.3 191.7L505.8 189.2L501.7 190L498.3 185.8L491.7 183.3L485 181.7L479.2 182.5L478.3 185.8L480 190.8L475.8 190L472.5 189.2L470 185.8L472.5 182.5L470.8 179.7L465.8 178.3L462.5 180L460.8 176.7L458.3 175Z"/>
<path fill="#fef0d9" d="M479.2 182.5L485 181.7L491.7 183.3L498.3 185.8L501.7 190L505.8 189.2L508.3 191.7L510.8 192.5L509.2 195L513.3 195.8L510 197.5L506.7 196.7L507.5 200.8L505 202.5L501.7 199.2L496.7 195L490 190.8L485 190L481.7 192.5L480 190.8L478.3 185.8Z"/>
<path fill="#fef0d9" d="M477.5 193.3L475.8 190L480 190.8L481.7 192.5L485 190L490 190.8L496.7 195L501.7 199.2L505 202.5L500.8 204.2L497.5 206.7L494.2 205.8L490.8 202.5L485 200.8L478.7 203.3L477.5 198.3L475 195Z"/>
<path fill="#fef0d9" d="M513.3 189.2L518.3 187.5L525.8 189.2L530.8 188.5L527.5 192.5L521.7 195.2L516.7 195L513.3 195.8L509.2 195L510.8 192.5Z"/>
<path fill="#fef0d9" d="M507.5 200.8L506.7 196.7L510 197.5L513.3 195.8L516.7 195L521.7 195.2L520.8 198.3L523.3 199.2L522.5 201.7L517.5 202.5L513.3 200L510 203.3Z"/>
<path fill="#fef0d9" d="M539.2 172.5L541.7 170L550 168.3L557.5 165.8L561.7 168.3L570 169.4L575 169.8L580 171.7L590 170L597.5 171.3L598.3 175L604.2 175.3L607.5 177.5L602.5 180L595.8 183.3L593.3 187.5L585 190.8L576.7 189.2L568.3 188L561.7 184.2L552.5 181.7L548.3 177.5L539.2 172.5Z"/>
<path fill="#e34a33" d="M597.5 171.3L600 162.5L605 161.7L611.7 165L618.3 170.8L626.7 174.2L635 175.8L636.7 175L637.5 181.7L634.2 183.3L636.7 187.5L635.4 188.8L632.9 191.3L630.4 192.9L627.9 195.8L624.2 196.7L622.1 197.5L621.3 194.2L619.2 195L616 197L615 200L617.2 201.4L619.6 202.5L622.1 201.7L626.7 203.8L624.8 206L622.9 208.3L625.8 210.8L628.8 214.6L631.7 218.3L634.2 224.2L633.3 228.3L630 235L626.7 240L620 242.5L615 244.2L611.7 247.5L608.3 245L605.8 244.6L603.3 242.5L599.2 240L595 241.7L594.2 241.7L590.8 243.5L586.7 238.3L583.3 233.3L581.7 227.5L578.3 225L573.3 224.2L568.3 226.7L567.5 227L561.7 227.5L560 227.5L552.5 225L545 220.8L541.7 220L536.7 215.8L535 210L530.8 207.5L525 204.2L522.5 201.7L523.3 199.2L520.8 198.3L521.7 195.2L527.5 192.5L530.8 188.5L529.2 183.3L531.7 182.5L533.3 178.3L537.5 177.5L539.2 172.5L548.3 177.5L552.5 181.7L561.7 184.2L568.3 188L576.7 189.2L585 190.8L593.3 187.5L595.8 183.3L602.5 180L607.5 177.5L604.2 175.3L598.3 175ZM610 248.3L613.3 248L614.2 250.8L611.7 252.5L609.7 250.8Z"/>
<path fill="#fef0d9" d="M627.9 195.8L630.4 192.9L632.9 191.3L635.4 188.8L637.1 188.3L637.5 190.4L635.8 192.5L635.4 195.4L637.2 199.3L634.6 201.3L631.7 201.3L630.4 199.2L630 197.1Z"/>
<path fill="#fef0d9" d="M634.6 201.3L637.2 199.3L640 201.7L642.5 204.6L643.8 207.1L642.1 209.6L639.2 210.4L637.5 208.8L635.8 205.4L635 203.3Z"/>
<path fill="#fdbb84" d="M655.8 182.1L658.3 183.8L661.3 185.4L664.6 184.6L667.1 187.1L665.4 188.3L664.2 190L661.7 189.2L660 191.3L657.9 191.7L656.3 189.2L656.7 186.7ZM660 192.5L662.5 193.8L665 196.7L665.8 200.8L667.1 204.2L667.9 207.1L666.3 209.2L663.3 209.6L661.7 210.8L660 212.5L657.9 211.7L656.7 210.4L654.2 211.7L651.7 212.1L649.2 212.5L648.3 211.7L650.8 208.8L654.2 207.1L657.1 206.7L657.5 203.3L660 203.8L661.7 200.4L661.3 197.1L660 194.6ZM652.9 212.9L656.7 211.2L657.1 212.3L654.2 214.2ZM646.3 213.3L648.8 212.5L650.8 213.5L652.1 215L652.5 217.9L651.3 219.2L649.6 216.7L648.3 215.4Z"/>
<path fill="#b30000" d="M500 223.3L508.3 221.7L512.5 218.3L515 212.5L518.3 209.2L517.5 205.8L522.5 201.7L525 204.2L524.2 210L529.2 211.7L526.7 216.7L525 222.5L520 227.5L518.3 230.8L522.5 233.3L521.7 236.7L517.5 238L511.7 234.7L503.3 234.2L501.7 233.3L501.7 230L503.3 227.5Z"/>
<path fill="#b30000" d="M517.5 238L521.7 236.7L522.5 233.3L518.3 230.8L520 227.5L525 222.5L526.7 216.7L529.2 211.7L524.2 210L525 204.2L530.8 207.5L535 210L536.7 215.8L541.7 220L541.3 223.3L545 225.8L552.5 229.2L560.3 231.7L561.3 232L561.7 235L563.3 239.2L565.8 243.3L563.3 243.3L560 245L556.7 250L550 256.7L545.8 261.7L545.8 270.8L544.2 276.7L541.7 279.7L539.2 276.7L535 268.3L530.8 257.5L528.3 250L526.7 245.8L522.5 245L520 242.5ZM560 227.5L561.7 227.5L562.5 230.3L568.3 229.7L567.5 227L568.3 226.7L573.3 224.2L578.3 225L580 228.3L576.7 233.3L574.2 237.5L572 242.5L570.8 239.2L570 235L568.3 232L561.3 232L560.3 231.7Z"/>
<path fill="#fdbb84" d="M541.7 220L545 220.8L552.5 225L560 227.5L560.3 231.7L552.5 229.2L545 225.8L541.3 223.3Z"/>
<path fill="#fef0d9" d="M561.7 227.5L567.5 227L568.3 229.7L562.5 230.3Z"/>
<path fill="#fc8d59" d="M561.3 232L568.3 232L570 235L570.8 239.2L572 243.3L570 240.8L568.3 242.5L565.8 243.3L563.3 239.2L561.7 235Z"/>
<path fill="#fef0d9" d="M546.7 275.8L549.2 275L551.7 280L550 284.2L547.5 283.3L545.8 279.2Z"/>
<path fill="#fc8d59" d="M578.3 225L581.7 227.5L583.3 233.3L586.7 238.3L590.8 243.5L588.3 245L585.8 248.3L585.8 254.2L587.5 259.2L590 265L590.8 271.7L589.2 273.3L588.3 266.7L585.8 260.8L584.2 256.7L581.7 259.2L578.3 257.5L576.7 251.7L573.3 245.8L572 242.5L574.2 237.5L576.7 233.3L580 228.3Z"/>
<path fill="#fdbb84" d="M585.8 248.3L588.3 245L590.8 243.5L592.5 246.7L593.3 251.7L596.7 252.5L600.8 253.3L605 259.2L603.3 262.5L598.3 263.5L597.5 267.5L595 266.7L593.3 264.2L591.2 267.6L591.2 272.5L590.6 277.7L592.7 280L595.7 282.2L597.2 283L595.4 283.6L593.5 284.2L590.8 280.7L589 278.5L588.8 273.3L590.2 271.7L589.4 267.2L590 265L587.5 259.2L585.8 254.2Z"/>
<path fill="#fdbb84" d="M590.8 243.5L594.2 241.7L596.7 242.5L599.2 245L601.7 245L602.5 250L606.7 255L609.2 260.8L607.5 263.3L605 262.5L605 259.2L600.8 253.3L596.7 252.5L593.3 251.7L592.5 246.7Z"/>
<path fill="#fc8d59" d="M595 241.7L599.2 240L603.3 242.5L605.8 244.6L603.3 248.3L605.8 252.5L610 257.5L613 263.3L613.3 268.3L610 273.3L605 277.5L603.3 274.2L606.7 270.8L609.2 268.3L609.2 263.5L609.2 260.8L606.7 255L602.5 250L601.7 245L599.2 245L596.7 242.5Z"/>
<path fill="#fdbb84" d="M598.3 263.5L603.3 262.5L605 262.5L607.5 263.3L609.2 263.5L609.2 268.3L606.7 270.8L603.3 272.5L599.2 270L597.5 267.5Z"/>
<path fill="#fdd49e" d="M593.5 284.5L595.4 283.6L597.2 283L600.2 286.7L602.2 292L603.2 296.5L601 297.2L597.2 294.2L594.2 289Z"/>
<path fill="#fdd49e" d="M616.3 296.7L619.2 293.9L623.4 291.7L627.7 287.5L631.2 282.5L633.3 282.5L635.5 286.1L637.9 286.8L636.9 288.9L632.6 289.6L629.8 291L628.4 293.9L623.4 296.7L619.2 298.1Z"/>
<path fill="#e34a33" d="M582.2 286.7L584.8 286.4L587.5 286.7L592 291.2L597.2 295L602.5 301L606.2 306.2L607.7 310L607.2 313.4L606.2 316L602.5 313L597.2 307L592 298.7L587.5 292.7L583.7 289ZM605.7 316.5L610 315.8L616.3 317.9L619.2 317.5L624.1 320.1L628.4 321.5L627.7 323.2L622 322.2L614.9 320.1L607.8 318.7ZM614.2 298.1L616.3 296.7L619.2 298.1L623.4 296.7L628.4 293.9L629.8 291L632.6 289.6L634.7 290L635.5 293.9L634.7 296L636.9 297.4L634.7 298.8L634 303.1L631.9 305.9L631.2 310.2L627.7 310.9L624.1 308.7L619.2 308.7L617 305.9L614.9 301.7ZM639.7 298.1L643.2 297.1L648.9 297.7L651.5 296.3L650.6 298.8L647.5 300.2L643.2 299.5L640.4 300.9L641.1 303.8L645.4 302.4L647.5 303.1L644.7 305.2L642.5 305.9L644.7 308.7L646.8 313L645.4 314.4L643.2 310.9L641.8 307.3L640.4 308L640.7 314.4L638.7 314.7L638.3 310.2L637.3 306.6L638.7 301.7ZM657.1 295.3L658.8 296L659.5 299.5L658.5 301.7L657.4 299.5ZM653.9 308.4L656 308.2L656.2 309.4L654.2 309.6ZM658.1 308L662.4 308L664.2 309.9L661 309.5L658.5 309.5ZM664.5 302.4L668.7 301.4L672.3 302.4L672.7 305.2L669.5 305.9L671.6 308L675.8 308.7L678.7 305.9L682.9 305.2L687.9 307.3L687.6 322.2L687.5 324.5L685 321.5L682.9 322.2L680.1 322.2L682.2 318.7L679.4 314.4L675.8 312.3L671.6 310.9L668.7 307.3L666.6 304.5ZM671.6 315.2L673 315L673.2 317.6L671.8 317.8ZM631.2 322.6L635.5 321.5L636.2 322.9L632.6 324ZM638.3 322.6L645.4 321.5L645.8 322.6L640.4 324ZM636.2 325L639.7 325.7L639 327.2L636.9 326.4ZM646.4 326.4L649.6 324.3L650.6 325L647.5 327.4Z"/>
<path fill="#fef0d9" d="M649.6 324L652.5 322.6L655.3 322.2L654.6 323.2L651 325Z"/>
<path fill="#fc8d59" d="M687.5 307L693.8 309.5L700 313.8L702.5 317.5L700 318.8L705 325L708.8 328L702.5 326.2L697.5 321.2L692.5 323.8L687.5 324.5ZM705 315L710 313.8L715 311.2L713.8 307.5L716.2 309.5L715.5 313.8L710 316.2L706.2 317ZM719.5 313.8L722 317.5L720.8 318Z"/>
<path class="t" fill="#fef0d9" d="M724.5 318L727 319.6L726.4 320.4L724 318.8ZM728.5 321L731 323L730.4 323.8L728 321.8ZM732 324L734.6 326.4L734 327.2L731.6 325Z"/>
<path fill="#e34a33" d="M636.9 252.8L640.4 252.1L641.5 256.3L640.4 260.6L643.2 263.4L647.5 264.8L649.6 268.4L651 271.2L648.9 270.5L646.8 267.7L644 266.2L641.1 265.5L639 266.2L639 262.7L636.9 258.5ZM642.5 270.5L645.4 269.8L646.8 272.6L646.1 275.5L644 273.3ZM647.5 272.6L650.3 271.9L650.6 274.7L648.2 275.5ZM643.2 280.4L646.8 278.3L649.6 278.3L651 275.5L653.2 276.9L653.9 281.8L652.5 285.4L650.3 284.7L648.9 281.8L646.1 281.1L644 281.8ZM632.6 278.3L636.9 271.2L637.9 271.9L634 278.3Z"/>
<path fill="#fdbb84" d="M418.6 191.2L422.1 190.5L423.5 192.7L420 194.1ZM420 196.2L422.8 194.6L425.7 193.2L430 192L434.2 191.2L438.4 191.8L442.6 192.6L445.8 190.4L449.2 188L451.7 190.8L455.8 193L456.7 195L458.3 198L459.7 202.5L453.3 203.7L447.5 204.2L441.7 206.7L440.5 204L434.2 205.4L427.1 205.1L422.8 203.3L420 200.5Z"/>
<path fill="#fef0d9" d="M448.8 188L451.8 187.6L455.3 188.8L458.8 190L460.7 191.8L459.4 192.6L457.6 192.1L455.3 192.6L451.8 191.8L450.3 190.9Z"/>
<path fill="#fef0d9" d="M455.6 193L458.2 192.5L459.4 192.6L460.6 195.3L462.4 197.6L460.9 198.5L458.8 196.8L456.8 195.6Z"/>
<path fill="#fdbb84" d="M459.4 192.6L460.7 191.8L463.5 192.1L465.9 191.5L467.6 193.8L469.4 195.3L468.2 195.9L467.9 199.7L465.9 197.4L464.1 198.5L462.4 197.6L460.6 195.3ZM458.6 197.4L460.9 198.5L461.8 199.4L459.6 199Z"/>
<path fill="#fc8d59" d="M441.7 206.7L447.5 204.2L453.3 203.7L452.5 207.5L449.7 210L445 214.2L441.7 215L442 210.8Z"/>
<path fill="#fef0d9" d="M440.6 210.6L442 210.8L441.8 213.6L440.4 214Z"/>
<path fill="#fef0d9" d="M439.8 214.6L441.5 214.2L441.7 215.3L441.5 218.9L440.7 222.6L439.5 218.9Z"/>
<path fill="#fdd49e" d="M441.7 215.3L445 214.4L449.7 210.2L450.8 214.2L445.3 217.5L447.5 220L444.2 223.3L440.9 223.6L441.5 218.9Z"/>
<path fill="#fdbb84" d="M453.3 203.7L459.7 203L460.8 207.5L464.2 214.2L467.5 219.2L469.2 223.3L466.7 224.3L462.5 222.6L455 216.9L450.8 214.2L449.7 210L452.5 207.5Z"/>
<path fill="#fef0d9" d="M466.7 224.3L469.2 223.3L470.3 225.8L468.3 226.5Z"/>
<path fill="#fdd49e" d="M458.3 198L462.5 198.8L468.3 197.8L469.2 201.7L473.3 204.2L478.7 203.3L485 200.8L490.8 202.5L494.2 205.8L497.5 206.7L498 209.2L496.7 213.3L499.2 218.3L500 223.3L503.3 227.5L501.7 230L501.7 233.3L496.7 233.3L490.8 231.7L488.3 230L485 231.7L478.3 228.3L474.2 223.3L470.8 221.7L469.2 223.3L467.5 219.2L464.2 214.2L460.8 207.5L459.7 203Z"/>
<path fill="#fdd49e" d="M614.2 388.9L616.5 386.3L617 382.4L617.4 378.3L617.6 374L617.7 369.5L618.4 365.5L619.1 361.5L620.4 359.2L621.8 357.1L625.8 355.2L629.7 353.6L633.7 352.2L637.7 350.9L639.5 348.2L641.2 345.6L643.8 342.9L646.5 340.3L649.6 338.4L652.7 336.8L655.4 337.6L658 338.6L659.8 335.4L661.5 332.4L663.8 331L666 329.7L667.8 330.8L669.5 332L672.6 331.7L675.7 331.5L676.2 332.8L676.6 334.1L674.8 335.9L673 337.7L675.2 339.9L677.4 342.1L679.6 344.1L681.9 346.1L683.6 344.6L685.4 343L686.3 339.4L687.2 335.9L688.4 332.4L689.5 328.8L690.6 331L691.6 333.3L692 335.5L692.5 337.7L693.8 339.4L695.1 341.2L695.6 344.3L696 347.4L697.8 350L699.5 352.7L700.4 355.4L701.3 358L703 360.6L704.8 363.3L705.4 366L706.1 368.6L705.4 371.7L704.8 374.8L703 377.9L701.3 381L698.6 384L696 387.1L692.9 390.2L689.8 393.3L686.2 396L682.7 398.6L679.2 400.4L675.7 402.2L673.5 401.3L671.3 400.4L668.6 399.5L666 398.6L665.1 396.4L664.2 394.2L664.6 390.6L665.1 387.1L663.3 388.9L661.5 390.7L659.8 389.8L658 388.9L656.2 386.2L654.5 383.6L651.8 383.1L649.2 382.7L644.8 383.6L640.3 384.5L636.8 386.2L633.3 388L629.8 388.9L626.2 389.8L622.6 390.7L619.1 391.6L617.4 391.3L615.6 391ZM669 407.5L672.8 407L676.6 406.6L676 408.4L675.3 410.1L673.3 411.8L671.3 413.6L669.5 413.4L667.7 413.3L668.3 410.4Z"/>
<path fill="#fef0d9" d="M739.3 390.7L741.4 390.7L741.6 392.9L741.9 395.1L744.1 396.8L746.3 398.6L745.4 400L744.6 401.3L742.4 402.2L740.2 403L738.4 404.8L736.6 406.6L734.6 407.4L732.6 408.3L731.9 406.6L734.2 404.4L736.6 402.2L738 400L739.3 397.7L739.3 394.2ZM728.7 406.6L730.4 408.3L727.8 411L725.1 413.6L721.6 415.8L718.1 418.1L713.6 420.1L709.2 422.1L707.3 421.4L705.4 420.7L707.3 419L709.2 417.2L713.6 415L718.1 412.8L721.6 410.6L725.1 408.3Z"/>
<path class="t" fill="#fef0d9" d="M743.2 338.6L744.4 340.8L745.5 343L744.6 343.3L743.4 341Z"/>
<path class="t" fill="#fef0d9" d="M766.4 346.6L768.6 345.4L769.6 346.6L767.4 347.8ZM770.6 345L773 344L773.6 345L771.2 346Z"/>
<path fill="#ffffff" d="M198 274L199.2 273.6L199.6 275L199.2 276.2L198.2 276Z"/>
</g>
<!-- legend -->
<g id="legendbar">
<rect x="210.5" y="501.5" width="47" height="10.5" fill="url(#hatch)" stroke="#c8c8c8" stroke-width="0.6"/>
<line x1="234" y1="498" x2="234" y2="501.5" stroke="#999" stroke-width="0.6"/>
<rect x="277.5" y="501.5" width="60.3" height="10.5" fill="#fef0d9"/>
<rect x="337.8" y="501.5" width="60.3" height="10.5" fill="#fdd49e"/>
<rect x="398.1" y="501.5" width="60.3" height="10.5" fill="#fdbb84"/>
<rect x="458.4" y="501.5" width="60.3" height="10.5" fill="#fc8d59"/>
<rect x="518.7" y="501.5" width="60.3" height="10.5" fill="#e34a33"/>
<path d="M579 501.5H634.8L639.6 506.75L634.8 512H579Z" fill="#b30000"/>
<path d="M277.5 501.5H634.8L639.6 506.75L634.8 512H277.5Z" fill="none" stroke="#999" stroke-width="0.5"/>
<path d="M277.5 498V512M337.8 498V512M398.1 498V512M458.4 498V512M518.7 498V512M579 498V512" stroke="#888" stroke-width="0.6" fill="none"/>
</g>
</svg>
<div id="lg_nd"  class="abs leg" style="left:234.2px">No data</div>
<div id="lg_0"   class="abs leg" style="left:277.6px">0</div>
<div id="lg_10k" class="abs leg" style="left:338.1px">10,000</div>
<div id="lg_30k" class="abs leg" style="left:398.2px">30,000</div>
<div id="lg_100k" class="abs leg" style="left:458.6px">100,000</div>
<div id="lg_300k" class="abs leg" style="left:518.8px">300,000</div>
<div id="lg_1m"  class="abs leg" style="left:579.3px">1 million</div>
<div id="src" class="abs"><b>Data source:</b> WHO &amp; UNICEF (2025); UN, World Population Prospects (2024)</div>
<div id="url" class="abs">OurWorldinData.org/vaccination | CC BY</div>
<div id="note1" class="abs"><b>Note:</b> Rubella is a contagious viral infection that occurs most often in children and young adults. A rubella infection in pregnant women may</div>
<div id="note2" class="abs">cause fetal death or congenital defects known as congenital rubella syndrome.</div>
</body>
</html>
